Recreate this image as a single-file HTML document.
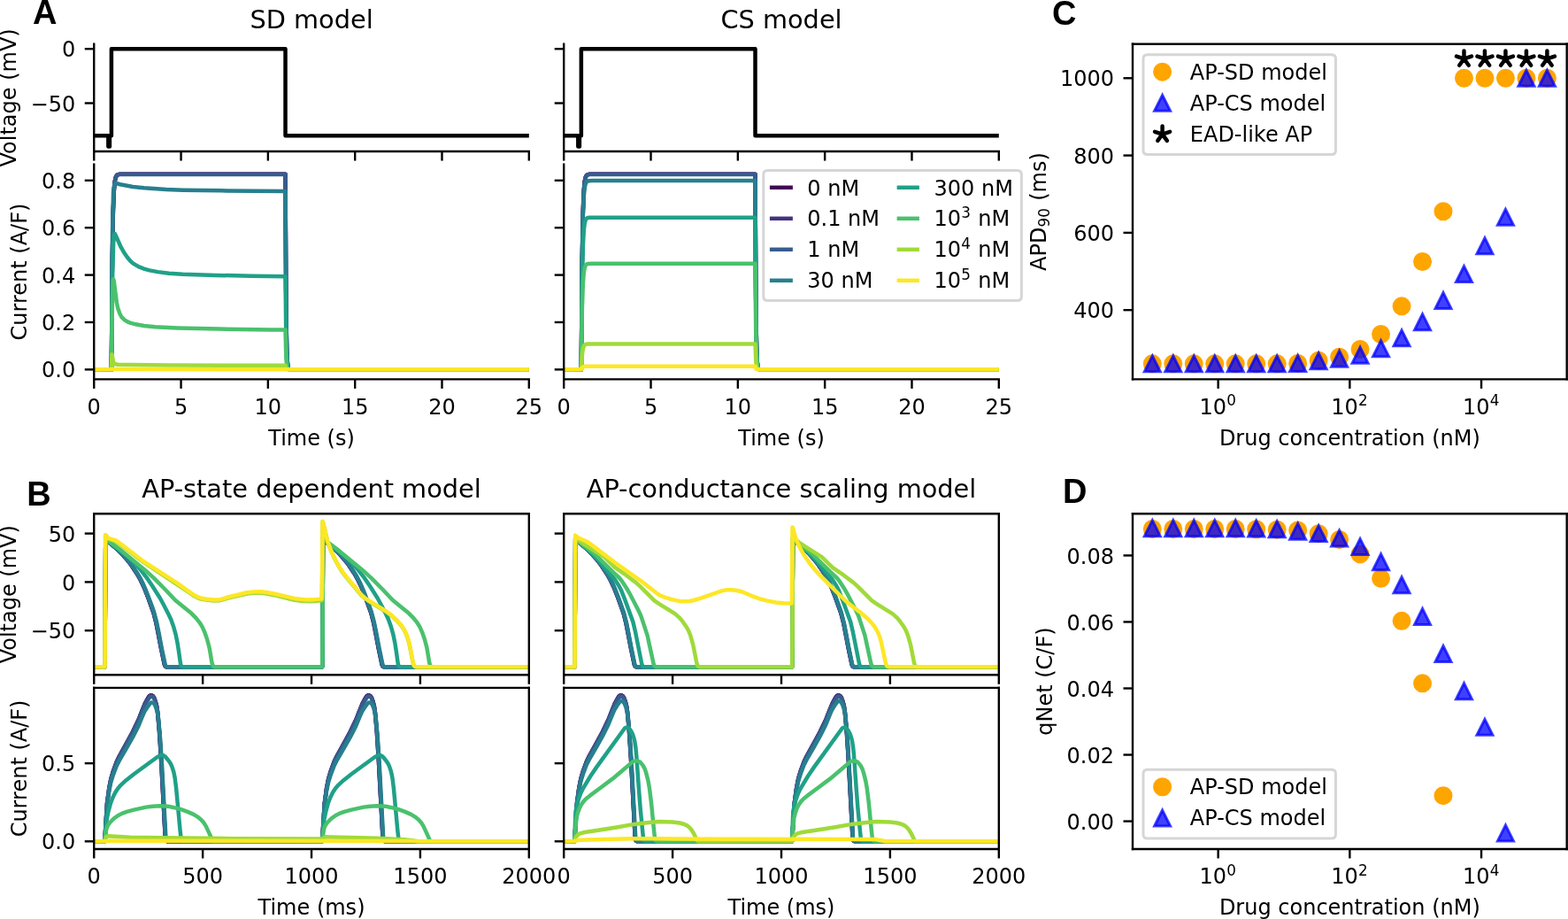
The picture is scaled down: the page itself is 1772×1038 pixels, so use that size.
<!DOCTYPE html>
<html><head><meta charset="utf-8"><title>Figure</title>
<style>html,body{margin:0;padding:0;background:#fff;}svg{display:block;}text{font-family:"DejaVu Sans","Liberation Sans",sans-serif;}</style>
</head><body>
<svg width="1772" height="1038" viewBox="0 0 590.666667 346" version="1.1">
<defs>
<style type="text/css">*{stroke-linejoin: round; stroke-linecap: butt}</style>
</defs>
<g id="figure_1">
<g id="patch_1">
<path d="M 0 346 
L 590.67 346 
L 590.67 0 
L 0 0 
z
" style="fill: #ffffff"/>
</g>
<g id="axes_1">
<g id="patch_2">
<path d="M 35.41 57.02 
L 199.27 57.02 
L 199.27 16.57 
L 35.41 16.57 
z
" style="fill: #ffffff"/>
</g>
<g id="matplotlib.axis_1">
<g id="xtick_1">
<g id="line2d_1">
<defs>
<path id="m1504cfccaf" d="M 0 0 
L 0 3.5 
" style="stroke: #000000; stroke-width: 0.8"/>
</defs>
<g>
<use href="#m1504cfccaf" x="35.413333" y="57.022222" style="stroke: #000000; stroke-width: 0.8"/>
</g>
</g>
</g>
<g id="xtick_2">
<g id="line2d_2">
<g>
<use href="#m1504cfccaf" x="68.184" y="57.022222" style="stroke: #000000; stroke-width: 0.8"/>
</g>
</g>
</g>
<g id="xtick_3">
<g id="line2d_3">
<g>
<use href="#m1504cfccaf" x="100.954667" y="57.022222" style="stroke: #000000; stroke-width: 0.8"/>
</g>
</g>
</g>
<g id="xtick_4">
<g id="line2d_4">
<g>
<use href="#m1504cfccaf" x="133.725333" y="57.022222" style="stroke: #000000; stroke-width: 0.8"/>
</g>
</g>
</g>
<g id="xtick_5">
<g id="line2d_5">
<g>
<use href="#m1504cfccaf" x="166.496" y="57.022222" style="stroke: #000000; stroke-width: 0.8"/>
</g>
</g>
</g>
<g id="xtick_6">
<g id="line2d_6">
<g>
<use href="#m1504cfccaf" x="199.266667" y="57.022222" style="stroke: #000000; stroke-width: 0.8"/>
</g>
</g>
</g>
</g>
<g id="matplotlib.axis_2">
<g id="ytick_1">
<g id="line2d_7">
<defs>
<path id="m5d545ce8f8" d="M 0 0 
L -3.5 0 
" style="stroke: #000000; stroke-width: 0.8"/>
</defs>
<g>
<use href="#m5d545ce8f8" x="35.413333" y="18.405556" style="stroke: #000000; stroke-width: 0.8"/>
</g>
</g>
<g id="text_1">
<text style="font-size: 8px; font-family: 'DejaVu Sans', 'Liberation Sans', sans-serif; text-anchor: end" x="28.413333" y="21.444931" transform="rotate(-0 28.413333 21.444931)">0</text>
</g>
</g>
<g id="ytick_2">
<g id="line2d_8">
<g>
<use href="#m5d545ce8f8" x="35.413333" y="38.837654" style="stroke: #000000; stroke-width: 0.8"/>
</g>
</g>
<g id="text_2">
<text style="font-size: 8px; font-family: 'DejaVu Sans', 'Liberation Sans', sans-serif; text-anchor: end" x="28.413333" y="41.877029" transform="rotate(-0 28.413333 41.877029)">−50</text>
</g>
</g>
<g id="text_3">
<text style="font-size: 8px; font-family: 'DejaVu Sans', 'Liberation Sans', sans-serif; text-anchor: middle" x="5.865833" y="36.794444" transform="rotate(-90 5.865833 36.794444)">Voltage (mV)</text>
</g>
</g>
<g id="line2d_9">
<path d="M 35.41 51.1 
L 40.79 51.1 
L 40.79 55.18 
L 41.31 55.18 
L 41.31 51.1 
L 41.97 51.1 
L 41.97 18.41 
L 107.51 18.41 
L 107.51 51.1 
L 199.27 51.1 
" clip-path="url(#p07467d6503)" style="fill: none; stroke: #000000; stroke-width: 1.5; stroke-linecap: square"/>
</g>
<g id="patch_3">
<path d="M 35.41 57.02 
L 35.41 16.57 
" style="fill: none; stroke: #000000; stroke-width: 0.8; stroke-linejoin: miter; stroke-linecap: square"/>
</g>
<g id="patch_4">
<path d="M 35.41 57.02 
L 199.27 57.02 
" style="fill: none; stroke: #000000; stroke-width: 0.8; stroke-linejoin: miter; stroke-linecap: square"/>
</g>
<g id="text_4">
<text style="font-size: 9.6px; font-family: 'DejaVu Sans', 'Liberation Sans', sans-serif; text-anchor: middle" x="117.34" y="10.566667" transform="rotate(-0 117.34 10.566667)">SD model</text>
</g>
</g>
<g id="axes_2">
<g id="patch_5">
<path d="M 35.41 142.8 
L 199.27 142.8 
L 199.27 61.89 
L 35.41 61.89 
z
" style="fill: #ffffff"/>
</g>
<g id="matplotlib.axis_3">
<g id="xtick_7">
<g id="line2d_10">
<g>
<use href="#m1504cfccaf" x="35.413333" y="142.8" style="stroke: #000000; stroke-width: 0.8"/>
</g>
</g>
<g id="text_5">
<text style="font-size: 8px; font-family: 'DejaVu Sans', 'Liberation Sans', sans-serif; text-anchor: middle" x="35.413333" y="155.87875" transform="rotate(-0 35.413333 155.87875)">0</text>
</g>
</g>
<g id="xtick_8">
<g id="line2d_11">
<g>
<use href="#m1504cfccaf" x="68.184" y="142.8" style="stroke: #000000; stroke-width: 0.8"/>
</g>
</g>
<g id="text_6">
<text style="font-size: 8px; font-family: 'DejaVu Sans', 'Liberation Sans', sans-serif; text-anchor: middle" x="68.184" y="155.87875" transform="rotate(-0 68.184 155.87875)">5</text>
</g>
</g>
<g id="xtick_9">
<g id="line2d_12">
<g>
<use href="#m1504cfccaf" x="100.954667" y="142.8" style="stroke: #000000; stroke-width: 0.8"/>
</g>
</g>
<g id="text_7">
<text style="font-size: 8px; font-family: 'DejaVu Sans', 'Liberation Sans', sans-serif; text-anchor: middle" x="100.954667" y="155.87875" transform="rotate(-0 100.954667 155.87875)">10</text>
</g>
</g>
<g id="xtick_10">
<g id="line2d_13">
<g>
<use href="#m1504cfccaf" x="133.725333" y="142.8" style="stroke: #000000; stroke-width: 0.8"/>
</g>
</g>
<g id="text_8">
<text style="font-size: 8px; font-family: 'DejaVu Sans', 'Liberation Sans', sans-serif; text-anchor: middle" x="133.725333" y="155.87875" transform="rotate(-0 133.725333 155.87875)">15</text>
</g>
</g>
<g id="xtick_11">
<g id="line2d_14">
<g>
<use href="#m1504cfccaf" x="166.496" y="142.8" style="stroke: #000000; stroke-width: 0.8"/>
</g>
</g>
<g id="text_9">
<text style="font-size: 8px; font-family: 'DejaVu Sans', 'Liberation Sans', sans-serif; text-anchor: middle" x="166.496" y="155.87875" transform="rotate(-0 166.496 155.87875)">20</text>
</g>
</g>
<g id="xtick_12">
<g id="line2d_15">
<g>
<use href="#m1504cfccaf" x="199.266667" y="142.8" style="stroke: #000000; stroke-width: 0.8"/>
</g>
</g>
<g id="text_10">
<text style="font-size: 8px; font-family: 'DejaVu Sans', 'Liberation Sans', sans-serif; text-anchor: middle" x="199.266667" y="155.87875" transform="rotate(-0 199.266667 155.87875)">25</text>
</g>
</g>
<g id="text_11">
<text style="font-size: 8px; font-family: 'DejaVu Sans', 'Liberation Sans', sans-serif; text-anchor: middle" x="117.34" y="167.62125" transform="rotate(-0 117.34 167.62125)">Time (s)</text>
</g>
</g>
<g id="matplotlib.axis_4">
<g id="ytick_3">
<g id="line2d_16">
<g>
<use href="#m5d545ce8f8" x="35.413333" y="139.122384" style="stroke: #000000; stroke-width: 0.8"/>
</g>
</g>
<g id="text_12">
<text style="font-size: 8px; font-family: 'DejaVu Sans', 'Liberation Sans', sans-serif; text-anchor: end" x="28.413333" y="142.161759" transform="rotate(-0 28.413333 142.161759)">0.0</text>
</g>
</g>
<g id="ytick_4">
<g id="line2d_17">
<g>
<use href="#m5d545ce8f8" x="35.413333" y="121.326033" style="stroke: #000000; stroke-width: 0.8"/>
</g>
</g>
<g id="text_13">
<text style="font-size: 8px; font-family: 'DejaVu Sans', 'Liberation Sans', sans-serif; text-anchor: end" x="28.413333" y="124.365408" transform="rotate(-0 28.413333 124.365408)">0.2</text>
</g>
</g>
<g id="ytick_5">
<g id="line2d_18">
<g>
<use href="#m5d545ce8f8" x="35.413333" y="103.529681" style="stroke: #000000; stroke-width: 0.8"/>
</g>
</g>
<g id="text_14">
<text style="font-size: 8px; font-family: 'DejaVu Sans', 'Liberation Sans', sans-serif; text-anchor: end" x="28.413333" y="106.569056" transform="rotate(-0 28.413333 106.569056)">0.4</text>
</g>
</g>
<g id="ytick_6">
<g id="line2d_19">
<g>
<use href="#m5d545ce8f8" x="35.413333" y="85.73333" style="stroke: #000000; stroke-width: 0.8"/>
</g>
</g>
<g id="text_15">
<text style="font-size: 8px; font-family: 'DejaVu Sans', 'Liberation Sans', sans-serif; text-anchor: end" x="28.413333" y="88.772705" transform="rotate(-0 28.413333 88.772705)">0.6</text>
</g>
</g>
<g id="ytick_7">
<g id="line2d_20">
<g>
<use href="#m5d545ce8f8" x="35.413333" y="67.936979" style="stroke: #000000; stroke-width: 0.8"/>
</g>
</g>
<g id="text_16">
<text style="font-size: 8px; font-family: 'DejaVu Sans', 'Liberation Sans', sans-serif; text-anchor: end" x="28.413333" y="70.976354" transform="rotate(-0 28.413333 70.976354)">0.8</text>
</g>
</g>
<g id="text_17">
<text style="font-size: 8px; font-family: 'DejaVu Sans', 'Liberation Sans', sans-serif; text-anchor: middle" x="10.027083" y="102.344444" transform="rotate(-90 10.027083 102.344444)">Current (A/F)</text>
</g>
</g>
<g id="line2d_21">
<path d="M 35.41 139.12 
L 41.97 139.12 
L 42.3 97.54 
L 42.62 79.46 
L 42.95 71.61 
L 43.28 68.19 
L 43.61 66.71 
L 43.97 66.03 
L 44.36 65.74 
L 44.95 65.61 
L 45.9 65.57 
L 83.45 65.57 
L 107.51 65.57 
L 107.77 115.67 
L 108.03 131.64 
L 108.3 136.74 
L 108.56 138.36 
L 108.82 138.88 
L 109.15 139.06 
L 109.87 139.12 
L 110.79 139.12 
L 199.27 139.12 
L 199.27 139.12 
" clip-path="url(#pf6a0c6cbec)" style="fill: none; stroke: #440154; stroke-width: 1.5; stroke-linecap: square"/>
</g>
<g id="line2d_22">
<path d="M 35.41 139.12 
L 41.97 139.12 
L 42.3 97.54 
L 42.62 79.46 
L 42.95 71.61 
L 43.28 68.19 
L 43.61 66.71 
L 43.97 66.03 
L 44.36 65.74 
L 44.95 65.61 
L 45.9 65.57 
L 83.45 65.57 
L 107.51 65.57 
L 107.77 115.67 
L 108.03 131.64 
L 108.3 136.74 
L 108.56 138.36 
L 108.82 138.88 
L 109.15 139.06 
L 109.87 139.12 
L 110.79 139.12 
L 199.27 139.12 
L 199.27 139.12 
" clip-path="url(#pf6a0c6cbec)" style="fill: none; stroke: #46327e; stroke-width: 1.5; stroke-linecap: square"/>
</g>
<g id="line2d_23">
<path d="M 35.41 139.12 
L 41.97 139.12 
L 42.3 97.58 
L 42.62 79.52 
L 42.95 71.67 
L 43.28 68.26 
L 43.61 66.78 
L 43.97 66.1 
L 44.36 65.81 
L 44.95 65.68 
L 45.9 65.64 
L 83.45 65.64 
L 107.51 65.64 
L 107.77 115.69 
L 108.03 131.65 
L 108.3 136.74 
L 108.56 138.36 
L 108.82 138.88 
L 109.15 139.06 
L 109.87 139.12 
L 110.79 139.12 
L 199.27 139.12 
L 199.27 139.12 
" clip-path="url(#pf6a0c6cbec)" style="fill: none; stroke: #365c8d; stroke-width: 1.5; stroke-linecap: square"/>
</g>
<g id="line2d_24">
<path d="M 35.41 139.12 
L 41.97 139.12 
L 42.33 88.06 
L 42.69 72.39 
L 42.92 70.31 
L 43.25 69 
L 43.41 68.92 
L 44 69.07 
L 45.24 69.42 
L 50.07 70.34 
L 54.24 70.76 
L 62.59 71.31 
L 68.85 71.55 
L 83.45 71.79 
L 107.51 72.03 
L 107.77 117.73 
L 108.03 132.3 
L 108.3 136.95 
L 108.56 138.43 
L 108.82 138.9 
L 109.15 139.07 
L 109.93 139.12 
L 110.79 139.12 
L 199.27 139.12 
L 199.27 139.12 
" clip-path="url(#pf6a0c6cbec)" style="fill: none; stroke: #277f8e; stroke-width: 1.5; stroke-linecap: square"/>
</g>
<g id="line2d_25">
<path d="M 35.41 139.12 
L 41.97 139.12 
L 42.36 104.51 
L 42.72 91.52 
L 43.05 88.43 
L 43.21 87.96 
L 43.25 87.97 
L 43.41 88.21 
L 45.57 93.08 
L 46.94 95.44 
L 47.99 96.92 
L 49.03 98.16 
L 50.07 99.11 
L 52.16 100.37 
L 54.24 101.2 
L 56.33 101.78 
L 59.46 102.37 
L 63.63 102.9 
L 68.85 103.21 
L 81.37 103.64 
L 94.93 103.92 
L 107.51 104.06 
L 107.77 127.94 
L 108.03 135.56 
L 108.3 137.99 
L 108.56 138.76 
L 108.89 139.04 
L 109.48 139.12 
L 110.79 139.12 
L 199.27 139.12 
L 199.27 139.12 
" clip-path="url(#pf6a0c6cbec)" style="fill: none; stroke: #1fa187; stroke-width: 1.5; stroke-linecap: square"/>
</g>
<g id="line2d_26">
<path d="M 35.41 139.12 
L 41.97 139.12 
L 42.33 112.66 
L 42.59 105.73 
L 42.69 105.13 
L 42.75 105.21 
L 42.98 106.19 
L 43.28 108.64 
L 43.97 113.97 
L 44.39 116.02 
L 45.08 118.02 
L 45.7 119.19 
L 45.9 119.45 
L 46.94 120.48 
L 47.99 121.12 
L 49.03 121.56 
L 51.12 122.11 
L 54.24 122.64 
L 58.42 123.11 
L 66.76 123.47 
L 82.41 123.84 
L 102.23 124.15 
L 107.51 124.17 
L 107.77 134.36 
L 108.03 137.6 
L 108.3 138.64 
L 108.56 138.97 
L 108.95 139.09 
L 110.13 139.12 
L 199.27 139.12 
L 199.27 139.12 
" clip-path="url(#pf6a0c6cbec)" style="fill: none; stroke: #4ac16d; stroke-width: 1.5; stroke-linecap: square"/>
</g>
<g id="line2d_27">
<path d="M 35.41 139.12 
L 41.97 139.12 
L 42.16 133.43 
L 42.23 133.67 
L 42.69 136.27 
L 43.08 136.95 
L 43.51 137.1 
L 44.49 137.25 
L 49.03 137.37 
L 63.63 137.48 
L 105.36 137.61 
L 107.51 137.61 
L 107.77 138.64 
L 108.03 138.97 
L 108.43 139.09 
L 109.74 139.12 
L 199.27 139.12 
L 199.27 139.12 
" clip-path="url(#pf6a0c6cbec)" style="fill: none; stroke: #a0da39; stroke-width: 1.5; stroke-linecap: square"/>
</g>
<g id="line2d_28">
<path d="M 35.41 139.12 
L 42.39 139.02 
L 43.08 138.99 
L 107.9 139.1 
L 109.34 139.12 
L 199.27 139.12 
L 199.27 139.12 
" clip-path="url(#pf6a0c6cbec)" style="fill: none; stroke: #fde725; stroke-width: 1.5; stroke-linecap: square"/>
</g>
<g id="patch_6">
<path d="M 35.41 142.8 
L 35.41 61.89 
" style="fill: none; stroke: #000000; stroke-width: 0.8; stroke-linejoin: miter; stroke-linecap: square"/>
</g>
<g id="patch_7">
<path d="M 35.41 142.8 
L 199.27 142.8 
" style="fill: none; stroke: #000000; stroke-width: 0.8; stroke-linejoin: miter; stroke-linecap: square"/>
</g>
</g>
<g id="axes_3">
<g id="patch_8">
<path d="M 212.4 57.02 
L 376.27 57.02 
L 376.27 16.57 
L 212.4 16.57 
z
" style="fill: #ffffff"/>
</g>
<g id="matplotlib.axis_5">
<g id="xtick_13">
<g id="line2d_29">
<g>
<use href="#m1504cfccaf" x="212.4" y="57.022222" style="stroke: #000000; stroke-width: 0.8"/>
</g>
</g>
</g>
<g id="xtick_14">
<g id="line2d_30">
<g>
<use href="#m1504cfccaf" x="245.173333" y="57.022222" style="stroke: #000000; stroke-width: 0.8"/>
</g>
</g>
</g>
<g id="xtick_15">
<g id="line2d_31">
<g>
<use href="#m1504cfccaf" x="277.946667" y="57.022222" style="stroke: #000000; stroke-width: 0.8"/>
</g>
</g>
</g>
<g id="xtick_16">
<g id="line2d_32">
<g>
<use href="#m1504cfccaf" x="310.72" y="57.022222" style="stroke: #000000; stroke-width: 0.8"/>
</g>
</g>
</g>
<g id="xtick_17">
<g id="line2d_33">
<g>
<use href="#m1504cfccaf" x="343.493333" y="57.022222" style="stroke: #000000; stroke-width: 0.8"/>
</g>
</g>
</g>
<g id="xtick_18">
<g id="line2d_34">
<g>
<use href="#m1504cfccaf" x="376.266667" y="57.022222" style="stroke: #000000; stroke-width: 0.8"/>
</g>
</g>
</g>
</g>
<g id="matplotlib.axis_6">
<g id="ytick_8">
<g id="line2d_35">
<g>
<use href="#m5d545ce8f8" x="212.4" y="18.405556" style="stroke: #000000; stroke-width: 0.8"/>
</g>
</g>
</g>
<g id="ytick_9">
<g id="line2d_36">
<g>
<use href="#m5d545ce8f8" x="212.4" y="38.837654" style="stroke: #000000; stroke-width: 0.8"/>
</g>
</g>
</g>
</g>
<g id="line2d_37">
<path d="M 212.4 51.1 
L 217.77 51.1 
L 217.77 55.18 
L 218.3 55.18 
L 218.3 51.1 
L 218.95 51.1 
L 218.95 18.41 
L 284.5 18.41 
L 284.5 51.1 
L 376.27 51.1 
" clip-path="url(#pd16b6974a2)" style="fill: none; stroke: #000000; stroke-width: 1.5; stroke-linecap: square"/>
</g>
<g id="patch_9">
<path d="M 212.4 57.02 
L 212.4 16.57 
" style="fill: none; stroke: #000000; stroke-width: 0.8; stroke-linejoin: miter; stroke-linecap: square"/>
</g>
<g id="patch_10">
<path d="M 212.4 57.02 
L 376.27 57.02 
" style="fill: none; stroke: #000000; stroke-width: 0.8; stroke-linejoin: miter; stroke-linecap: square"/>
</g>
<g id="text_18">
<text style="font-size: 9.6px; font-family: 'DejaVu Sans', 'Liberation Sans', sans-serif; text-anchor: middle" x="294.333333" y="10.566667" transform="rotate(-0 294.333333 10.566667)">CS model</text>
</g>
</g>
<g id="axes_4">
<g id="patch_11">
<path d="M 212.4 142.8 
L 376.27 142.8 
L 376.27 61.89 
L 212.4 61.89 
z
" style="fill: #ffffff"/>
</g>
<g id="matplotlib.axis_7">
<g id="xtick_19">
<g id="line2d_38">
<g>
<use href="#m1504cfccaf" x="212.4" y="142.8" style="stroke: #000000; stroke-width: 0.8"/>
</g>
</g>
<g id="text_19">
<text style="font-size: 8px; font-family: 'DejaVu Sans', 'Liberation Sans', sans-serif; text-anchor: middle" x="212.4" y="155.87875" transform="rotate(-0 212.4 155.87875)">0</text>
</g>
</g>
<g id="xtick_20">
<g id="line2d_39">
<g>
<use href="#m1504cfccaf" x="245.173333" y="142.8" style="stroke: #000000; stroke-width: 0.8"/>
</g>
</g>
<g id="text_20">
<text style="font-size: 8px; font-family: 'DejaVu Sans', 'Liberation Sans', sans-serif; text-anchor: middle" x="245.173333" y="155.87875" transform="rotate(-0 245.173333 155.87875)">5</text>
</g>
</g>
<g id="xtick_21">
<g id="line2d_40">
<g>
<use href="#m1504cfccaf" x="277.946667" y="142.8" style="stroke: #000000; stroke-width: 0.8"/>
</g>
</g>
<g id="text_21">
<text style="font-size: 8px; font-family: 'DejaVu Sans', 'Liberation Sans', sans-serif; text-anchor: middle" x="277.946667" y="155.87875" transform="rotate(-0 277.946667 155.87875)">10</text>
</g>
</g>
<g id="xtick_22">
<g id="line2d_41">
<g>
<use href="#m1504cfccaf" x="310.72" y="142.8" style="stroke: #000000; stroke-width: 0.8"/>
</g>
</g>
<g id="text_22">
<text style="font-size: 8px; font-family: 'DejaVu Sans', 'Liberation Sans', sans-serif; text-anchor: middle" x="310.72" y="155.87875" transform="rotate(-0 310.72 155.87875)">15</text>
</g>
</g>
<g id="xtick_23">
<g id="line2d_42">
<g>
<use href="#m1504cfccaf" x="343.493333" y="142.8" style="stroke: #000000; stroke-width: 0.8"/>
</g>
</g>
<g id="text_23">
<text style="font-size: 8px; font-family: 'DejaVu Sans', 'Liberation Sans', sans-serif; text-anchor: middle" x="343.493333" y="155.87875" transform="rotate(-0 343.493333 155.87875)">20</text>
</g>
</g>
<g id="xtick_24">
<g id="line2d_43">
<g>
<use href="#m1504cfccaf" x="376.266667" y="142.8" style="stroke: #000000; stroke-width: 0.8"/>
</g>
</g>
<g id="text_24">
<text style="font-size: 8px; font-family: 'DejaVu Sans', 'Liberation Sans', sans-serif; text-anchor: middle" x="376.266667" y="155.87875" transform="rotate(-0 376.266667 155.87875)">25</text>
</g>
</g>
<g id="text_25">
<text style="font-size: 8px; font-family: 'DejaVu Sans', 'Liberation Sans', sans-serif; text-anchor: middle" x="294.333333" y="167.62125" transform="rotate(-0 294.333333 167.62125)">Time (s)</text>
</g>
</g>
<g id="matplotlib.axis_8">
<g id="ytick_10">
<g id="line2d_44">
<g>
<use href="#m5d545ce8f8" x="212.4" y="139.122384" style="stroke: #000000; stroke-width: 0.8"/>
</g>
</g>
</g>
<g id="ytick_11">
<g id="line2d_45">
<g>
<use href="#m5d545ce8f8" x="212.4" y="121.326033" style="stroke: #000000; stroke-width: 0.8"/>
</g>
</g>
</g>
<g id="ytick_12">
<g id="line2d_46">
<g>
<use href="#m5d545ce8f8" x="212.4" y="103.529681" style="stroke: #000000; stroke-width: 0.8"/>
</g>
</g>
</g>
<g id="ytick_13">
<g id="line2d_47">
<g>
<use href="#m5d545ce8f8" x="212.4" y="85.73333" style="stroke: #000000; stroke-width: 0.8"/>
</g>
</g>
</g>
<g id="ytick_14">
<g id="line2d_48">
<g>
<use href="#m5d545ce8f8" x="212.4" y="67.936979" style="stroke: #000000; stroke-width: 0.8"/>
</g>
</g>
</g>
</g>
<g id="line2d_49">
<path d="M 212.4 139.12 
L 218.95 139.12 
L 219.28 97.54 
L 219.61 79.46 
L 219.94 71.61 
L 220.27 68.19 
L 220.59 66.71 
L 220.95 66.03 
L 221.35 65.74 
L 221.94 65.61 
L 222.89 65.57 
L 260.44 65.57 
L 284.5 65.57 
L 284.76 115.67 
L 285.03 131.64 
L 285.29 136.74 
L 285.55 138.36 
L 285.81 138.88 
L 286.14 139.06 
L 286.86 139.12 
L 287.78 139.12 
L 376.27 139.12 
L 376.27 139.12 
" clip-path="url(#pbfc1b4fcc4)" style="fill: none; stroke: #440154; stroke-width: 1.5; stroke-linecap: square"/>
</g>
<g id="line2d_50">
<path d="M 212.4 139.12 
L 218.95 139.12 
L 219.28 97.54 
L 219.61 79.46 
L 219.94 71.61 
L 220.27 68.19 
L 220.59 66.71 
L 220.95 66.03 
L 221.35 65.74 
L 221.94 65.61 
L 222.89 65.57 
L 260.44 65.57 
L 284.5 65.57 
L 284.76 115.67 
L 285.03 131.64 
L 285.29 136.74 
L 285.55 138.36 
L 285.81 138.88 
L 286.14 139.06 
L 286.86 139.12 
L 287.78 139.12 
L 376.27 139.12 
L 376.27 139.12 
" clip-path="url(#pbfc1b4fcc4)" style="fill: none; stroke: #46327e; stroke-width: 1.5; stroke-linecap: square"/>
</g>
<g id="line2d_51">
<path d="M 212.4 139.12 
L 218.95 139.12 
L 219.28 97.58 
L 219.61 79.52 
L 219.94 71.67 
L 220.27 68.26 
L 220.59 66.78 
L 220.95 66.1 
L 221.35 65.81 
L 221.94 65.68 
L 222.89 65.64 
L 260.44 65.64 
L 284.5 65.64 
L 284.76 115.69 
L 285.03 131.65 
L 285.29 136.74 
L 285.55 138.36 
L 285.81 138.88 
L 286.14 139.06 
L 286.86 139.12 
L 287.78 139.12 
L 376.27 139.12 
L 376.27 139.12 
" clip-path="url(#pbfc1b4fcc4)" style="fill: none; stroke: #365c8d; stroke-width: 1.5; stroke-linecap: square"/>
</g>
<g id="line2d_52">
<path d="M 212.4 139.12 
L 218.95 139.12 
L 219.28 98.92 
L 219.61 81.45 
L 219.94 73.86 
L 220.27 70.56 
L 220.59 69.13 
L 220.95 68.47 
L 221.35 68.19 
L 221.97 68.06 
L 222.89 68.03 
L 262.53 68.03 
L 284.5 68.03 
L 284.76 116.45 
L 285.03 131.89 
L 285.29 136.82 
L 285.55 138.39 
L 285.81 138.89 
L 286.14 139.07 
L 286.93 139.12 
L 287.78 139.12 
L 376.27 139.12 
L 376.27 139.12 
" clip-path="url(#pbfc1b4fcc4)" style="fill: none; stroke: #277f8e; stroke-width: 1.5; stroke-linecap: square"/>
</g>
<g id="line2d_53">
<path d="M 212.4 139.12 
L 218.95 139.12 
L 219.28 106.77 
L 219.61 92.71 
L 219.94 86.6 
L 220.27 83.95 
L 220.59 82.79 
L 220.95 82.26 
L 221.38 82.03 
L 222.1 81.93 
L 223.93 81.91 
L 284.5 81.91 
L 284.76 120.88 
L 285.03 133.3 
L 285.29 137.27 
L 285.55 138.53 
L 285.81 138.93 
L 286.21 139.09 
L 287.12 139.12 
L 376.27 139.12 
L 376.27 139.12 
" clip-path="url(#pbfc1b4fcc4)" style="fill: none; stroke: #1fa187; stroke-width: 1.5; stroke-linecap: square"/>
</g>
<g id="line2d_54">
<path d="M 212.4 139.12 
L 218.95 139.12 
L 219.28 116.58 
L 219.61 106.79 
L 219.94 102.53 
L 220.27 100.68 
L 220.63 99.83 
L 221.02 99.47 
L 221.54 99.31 
L 222.76 99.26 
L 240.62 99.26 
L 284.5 99.26 
L 284.76 126.41 
L 285.03 135.07 
L 285.29 137.83 
L 285.55 138.71 
L 285.88 139.02 
L 286.4 139.11 
L 287.78 139.12 
L 376.27 139.12 
L 376.27 139.12 
" clip-path="url(#pbfc1b4fcc4)" style="fill: none; stroke: #4ac16d; stroke-width: 1.5; stroke-linecap: square"/>
</g>
<g id="line2d_55">
<path d="M 212.4 139.12 
L 218.95 139.12 
L 219.28 133.69 
L 219.61 131.33 
L 219.94 130.3 
L 220.3 129.83 
L 220.76 129.61 
L 221.58 129.52 
L 224.97 129.51 
L 284.5 129.51 
L 284.76 136.06 
L 285.03 138.15 
L 285.29 138.81 
L 285.62 139.05 
L 286.27 139.12 
L 287.78 139.12 
L 376.27 139.12 
L 376.27 139.12 
" clip-path="url(#pbfc1b4fcc4)" style="fill: none; stroke: #a0da39; stroke-width: 1.5; stroke-linecap: square"/>
</g>
<g id="line2d_56">
<path d="M 212.4 139.12 
L 218.99 139.03 
L 219.35 138.36 
L 219.74 138.08 
L 220.36 137.95 
L 222.13 137.92 
L 284.5 137.92 
L 284.76 138.74 
L 285.09 139.03 
L 285.62 139.11 
L 287.78 139.12 
L 376.27 139.12 
L 376.27 139.12 
" clip-path="url(#pbfc1b4fcc4)" style="fill: none; stroke: #fde725; stroke-width: 1.5; stroke-linecap: square"/>
</g>
<g id="patch_12">
<path d="M 212.4 142.8 
L 212.4 61.89 
" style="fill: none; stroke: #000000; stroke-width: 0.8; stroke-linejoin: miter; stroke-linecap: square"/>
</g>
<g id="patch_13">
<path d="M 212.4 142.8 
L 376.27 142.8 
" style="fill: none; stroke: #000000; stroke-width: 0.8; stroke-linejoin: miter; stroke-linecap: square"/>
</g>
</g>
<g id="axes_5">
<g id="patch_14">
<path d="M 35.41 254.1 
L 199.27 254.1 
L 199.27 193.4 
L 35.41 193.4 
z
" style="fill: #ffffff"/>
</g>
<g id="matplotlib.axis_9">
<g id="xtick_25">
<g id="line2d_57">
<g>
<use href="#m1504cfccaf" x="35.413333" y="254.1" style="stroke: #000000; stroke-width: 0.8"/>
</g>
</g>
</g>
<g id="xtick_26">
<g id="line2d_58">
<g>
<use href="#m1504cfccaf" x="76.376667" y="254.1" style="stroke: #000000; stroke-width: 0.8"/>
</g>
</g>
</g>
<g id="xtick_27">
<g id="line2d_59">
<g>
<use href="#m1504cfccaf" x="117.34" y="254.1" style="stroke: #000000; stroke-width: 0.8"/>
</g>
</g>
</g>
<g id="xtick_28">
<g id="line2d_60">
<g>
<use href="#m1504cfccaf" x="158.303333" y="254.1" style="stroke: #000000; stroke-width: 0.8"/>
</g>
</g>
</g>
<g id="xtick_29">
<g id="line2d_61">
<g>
<use href="#m1504cfccaf" x="199.266667" y="254.1" style="stroke: #000000; stroke-width: 0.8"/>
</g>
</g>
</g>
</g>
<g id="matplotlib.axis_10">
<g id="ytick_15">
<g id="line2d_62">
<g>
<use href="#m5d545ce8f8" x="35.413333" y="237.40065" style="stroke: #000000; stroke-width: 0.8"/>
</g>
</g>
<g id="text_26">
<text style="font-size: 8px; font-family: 'DejaVu Sans', 'Liberation Sans', sans-serif; text-anchor: end" x="28.413333" y="240.440025" transform="rotate(-0 28.413333 240.440025)">−50</text>
</g>
</g>
<g id="ytick_16">
<g id="line2d_63">
<g>
<use href="#m5d545ce8f8" x="35.413333" y="219.134023" style="stroke: #000000; stroke-width: 0.8"/>
</g>
</g>
<g id="text_27">
<text style="font-size: 8px; font-family: 'DejaVu Sans', 'Liberation Sans', sans-serif; text-anchor: end" x="28.413333" y="222.173398" transform="rotate(-0 28.413333 222.173398)">0</text>
</g>
</g>
<g id="ytick_17">
<g id="line2d_64">
<g>
<use href="#m5d545ce8f8" x="35.413333" y="200.867397" style="stroke: #000000; stroke-width: 0.8"/>
</g>
</g>
<g id="text_28">
<text style="font-size: 8px; font-family: 'DejaVu Sans', 'Liberation Sans', sans-serif; text-anchor: end" x="28.413333" y="203.906772" transform="rotate(-0 28.413333 203.906772)">50</text>
</g>
</g>
<g id="text_29">
<text style="font-size: 8px; font-family: 'DejaVu Sans', 'Liberation Sans', sans-serif; text-anchor: middle" x="5.865833" y="223.75" transform="rotate(-90 5.865833 223.75)">Voltage (mV)</text>
</g>
</g>
<g id="line2d_65">
<path d="M 35.41 251.07 
L 39.47 251.07 
L 39.51 250.84 
L 39.63 226.83 
L 39.76 202.5 
L 39.8 202.52 
L 40.08 202.81 
L 40.33 203.2 
L 40.82 203.97 
L 41.64 204.65 
L 43.44 206.14 
L 45.57 208.18 
L 47.7 210.55 
L 49.34 212.66 
L 51.63 216.04 
L 52.95 218.39 
L 54.26 221.17 
L 55.9 225.31 
L 57.86 230.85 
L 58.84 234.67 
L 59.5 238 
L 60.65 244.01 
L 61.96 250.25 
L 62.29 250.9 
L 62.61 251.06 
L 67.53 251.07 
L 121.4 251.07 
L 121.44 250.84 
L 121.56 226.83 
L 121.68 202.5 
L 121.72 202.52 
L 122.01 202.81 
L 122.26 203.2 
L 122.75 203.97 
L 123.57 204.65 
L 125.37 206.14 
L 127.5 208.18 
L 129.63 210.55 
L 131.27 212.66 
L 133.56 216.04 
L 134.87 218.39 
L 136.18 221.17 
L 137.82 225.31 
L 139.79 230.85 
L 140.77 234.67 
L 141.43 238 
L 142.57 244.01 
L 143.88 250.25 
L 144.21 250.9 
L 144.54 251.06 
L 149.46 251.07 
L 199.27 251.07 
L 199.27 251.07 
" clip-path="url(#p3e1aa53b1c)" style="fill: none; stroke: #440154; stroke-width: 1.5; stroke-linecap: square"/>
</g>
<g id="line2d_66">
<path d="M 35.41 251.07 
L 39.47 251.07 
L 39.51 250.84 
L 39.63 226.83 
L 39.76 202.5 
L 39.8 202.52 
L 40.08 202.81 
L 40.33 203.2 
L 40.82 203.97 
L 41.64 204.65 
L 43.44 206.14 
L 45.57 208.18 
L 47.7 210.55 
L 49.34 212.66 
L 51.63 216.04 
L 52.95 218.39 
L 54.26 221.17 
L 55.9 225.31 
L 57.86 230.85 
L 58.84 234.67 
L 59.5 238 
L 60.65 244.01 
L 61.96 250.25 
L 62.29 250.9 
L 62.61 251.06 
L 67.53 251.07 
L 121.4 251.07 
L 121.44 250.84 
L 121.56 226.83 
L 121.68 202.5 
L 121.72 202.52 
L 122.01 202.81 
L 122.26 203.2 
L 122.75 203.97 
L 123.57 204.65 
L 125.37 206.14 
L 127.5 208.18 
L 129.63 210.55 
L 131.27 212.66 
L 133.56 216.04 
L 134.87 218.39 
L 136.18 221.17 
L 137.82 225.31 
L 139.79 230.85 
L 140.77 234.67 
L 141.43 238 
L 142.57 244.01 
L 143.88 250.25 
L 144.21 250.9 
L 144.54 251.06 
L 149.46 251.07 
L 199.27 251.07 
L 199.27 251.07 
" clip-path="url(#p3e1aa53b1c)" style="fill: none; stroke: #46327e; stroke-width: 1.5; stroke-linecap: square"/>
</g>
<g id="line2d_67">
<path d="M 35.41 251.07 
L 39.47 251.07 
L 39.51 250.84 
L 39.63 226.83 
L 39.76 202.5 
L 39.8 202.52 
L 40.08 202.81 
L 40.33 203.2 
L 40.82 203.97 
L 41.64 204.65 
L 43.44 206.14 
L 45.9 208.47 
L 47.54 210.23 
L 49.34 212.52 
L 51.63 215.88 
L 52.95 218.19 
L 54.26 220.94 
L 55.73 224.62 
L 57.86 230.51 
L 58.84 234.24 
L 59.5 237.42 
L 60.81 244.35 
L 62.12 250.46 
L 62.45 250.95 
L 62.78 251.07 
L 121.4 251.07 
L 121.44 250.84 
L 121.56 226.83 
L 121.68 202.5 
L 121.72 202.52 
L 122.01 202.81 
L 122.26 203.2 
L 122.75 203.97 
L 123.57 204.65 
L 125.37 206.14 
L 127.83 208.47 
L 129.47 210.23 
L 131.27 212.52 
L 133.56 215.88 
L 134.87 218.19 
L 136.18 220.94 
L 137.66 224.62 
L 139.79 230.51 
L 140.77 234.24 
L 141.43 237.42 
L 142.74 244.35 
L 144.05 250.46 
L 144.38 250.95 
L 144.7 251.07 
L 199.27 251.07 
L 199.27 251.07 
" clip-path="url(#p3e1aa53b1c)" style="fill: none; stroke: #365c8d; stroke-width: 1.5; stroke-linecap: square"/>
</g>
<g id="line2d_68">
<path d="M 35.41 251.07 
L 39.47 251.07 
L 39.51 250.84 
L 39.63 226.83 
L 39.76 202.5 
L 39.8 202.52 
L 40.08 202.81 
L 40.33 203.2 
L 40.82 203.97 
L 41.64 204.65 
L 43.44 206.14 
L 47.21 209.66 
L 48.69 211.43 
L 50.49 213.91 
L 52.29 216.7 
L 53.6 219.16 
L 54.91 222.11 
L 57.21 228.08 
L 58.03 230.5 
L 59.01 234.23 
L 59.66 237.41 
L 60.97 244.33 
L 62.29 250.45 
L 62.61 250.95 
L 62.94 251.07 
L 121.4 251.07 
L 121.44 250.84 
L 121.56 226.83 
L 121.68 202.5 
L 121.72 202.52 
L 122.01 202.81 
L 122.26 203.2 
L 122.75 203.97 
L 123.57 204.65 
L 125.37 206.14 
L 129.14 209.66 
L 130.61 211.43 
L 132.41 213.91 
L 134.22 216.7 
L 135.53 219.16 
L 136.84 222.11 
L 139.13 228.08 
L 139.95 230.5 
L 140.93 234.23 
L 141.59 237.41 
L 142.9 244.33 
L 144.21 250.45 
L 144.54 250.95 
L 144.87 251.07 
L 199.27 251.07 
L 199.27 251.07 
" clip-path="url(#p3e1aa53b1c)" style="fill: none; stroke: #277f8e; stroke-width: 1.5; stroke-linecap: square"/>
</g>
<g id="line2d_69">
<path d="M 35.41 251.07 
L 39.47 251.07 
L 39.51 250.84 
L 39.63 226.83 
L 39.76 202.5 
L 39.8 202.51 
L 40.12 202.79 
L 40.49 203.37 
L 40.98 203.94 
L 44.75 206.81 
L 48.19 209.58 
L 50.98 212.3 
L 52.95 214.53 
L 55.24 217.46 
L 57.37 220.59 
L 60.32 225.25 
L 61.63 227.67 
L 63.6 231.5 
L 64.42 233.27 
L 65.4 236.04 
L 66.22 238.99 
L 66.87 242.19 
L 67.36 245.4 
L 68.02 250.03 
L 68.35 250.85 
L 68.84 251.06 
L 71.95 251.07 
L 121.4 251.07 
L 121.44 250.84 
L 121.56 226.83 
L 121.68 202.5 
L 121.72 202.51 
L 122.05 202.79 
L 122.42 203.37 
L 122.91 203.94 
L 126.68 206.81 
L 130.12 209.58 
L 132.91 212.3 
L 134.87 214.53 
L 137.17 217.46 
L 139.3 220.59 
L 142.25 225.25 
L 143.56 227.67 
L 145.52 231.5 
L 146.34 233.27 
L 147.33 236.04 
L 148.14 238.99 
L 148.8 242.19 
L 149.29 245.4 
L 149.95 250.03 
L 150.27 250.85 
L 150.77 251.06 
L 153.88 251.07 
L 199.27 251.07 
L 199.27 251.07 
" clip-path="url(#p3e1aa53b1c)" style="fill: none; stroke: #1fa187; stroke-width: 1.5; stroke-linecap: square"/>
</g>
<g id="line2d_70">
<path d="M 35.41 251.07 
L 39.47 251.07 
L 39.51 250.84 
L 39.63 226.83 
L 39.76 202.5 
L 39.8 202.51 
L 40.12 202.75 
L 40.49 203.24 
L 40.98 203.76 
L 42.62 204.95 
L 44.92 206.68 
L 54.75 214.72 
L 58.03 217.72 
L 62.29 222 
L 66.05 226.02 
L 72.12 230.95 
L 73.92 232.81 
L 75.23 234.43 
L 76.21 236.03 
L 77.03 237.85 
L 78.02 240.67 
L 78.83 243.71 
L 79.33 246.54 
L 79.82 249.52 
L 80.15 250.52 
L 80.47 250.92 
L 80.8 251.07 
L 121.4 251.07 
L 121.44 250.84 
L 121.56 226.83 
L 121.68 202.5 
L 121.72 202.51 
L 122.05 202.75 
L 122.42 203.24 
L 122.91 203.76 
L 124.55 204.95 
L 126.84 206.68 
L 136.67 214.72 
L 139.95 217.72 
L 144.21 222 
L 147.98 226.02 
L 154.04 230.95 
L 155.85 232.81 
L 157.16 234.43 
L 158.14 236.03 
L 158.96 237.85 
L 159.94 240.67 
L 160.76 243.71 
L 161.25 246.54 
L 161.74 249.52 
L 162.07 250.52 
L 162.4 250.92 
L 162.73 251.07 
L 199.27 251.07 
L 199.27 251.07 
" clip-path="url(#p3e1aa53b1c)" style="fill: none; stroke: #4ac16d; stroke-width: 1.5; stroke-linecap: square"/>
</g>
<g id="line2d_71">
<path d="M 35.41 251.07 
L 39.47 251.07 
L 39.51 250.64 
L 39.71 201.5 
L 39.84 201.54 
L 40.12 201.85 
L 40.66 202.83 
L 41.15 203.04 
L 43.11 203.61 
L 44.1 204.12 
L 45.9 205.42 
L 50.65 209.11 
L 54.42 211.9 
L 70.81 222.81 
L 72.77 224.15 
L 74.57 225.12 
L 75.72 225.52 
L 77.69 225.87 
L 80.47 226.17 
L 82.77 226.06 
L 83.75 225.82 
L 86.21 225.12 
L 93.09 223.51 
L 95.71 223.28 
L 98.17 223.22 
L 99.97 223.43 
L 103.25 224.06 
L 110.95 225.95 
L 113.57 226.26 
L 116.52 226.43 
L 118.49 226.34 
L 121.11 226.06 
L 121.27 225.96 
L 121.4 213.91 
L 121.52 196.34 
L 121.6 196.48 
L 121.97 197.87 
L 123.4 203.95 
L 124.55 207.07 
L 125.86 209.97 
L 127.66 213.34 
L 129.14 215.64 
L 130.61 217.5 
L 134.38 222 
L 136.18 224.17 
L 137.33 225.19 
L 139.13 226.46 
L 142.08 228.25 
L 145.52 230.35 
L 147.65 231.96 
L 149.13 233.33 
L 150.93 235.27 
L 152.08 236.93 
L 152.9 238.5 
L 153.55 240.24 
L 154.21 242.57 
L 155.03 246.81 
L 155.68 250 
L 156.01 250.67 
L 156.34 250.94 
L 156.83 251.07 
L 199.27 251.07 
L 199.27 251.07 
" clip-path="url(#p3e1aa53b1c)" style="fill: none; stroke: #a0da39; stroke-width: 1.5; stroke-linecap: square"/>
</g>
<g id="line2d_72">
<path d="M 35.41 251.07 
L 39.47 251.07 
L 39.51 250.64 
L 39.71 201.5 
L 39.84 201.54 
L 40.08 201.78 
L 40.49 202.41 
L 40.98 202.64 
L 43.61 203.5 
L 44.75 204.23 
L 46.56 205.61 
L 53.27 210.78 
L 55.9 212.52 
L 66.87 219.65 
L 70.31 222.11 
L 72.61 223.72 
L 74.41 224.7 
L 75.56 225.15 
L 77.36 225.49 
L 80.47 225.83 
L 82.77 225.72 
L 83.75 225.48 
L 86.21 224.75 
L 93.09 223.08 
L 95.71 222.81 
L 98.01 222.74 
L 99.81 222.91 
L 103.08 223.49 
L 111.61 225.44 
L 115.7 225.81 
L 117.83 225.79 
L 121.11 225.46 
L 121.27 225.36 
L 121.4 213.89 
L 121.52 196.34 
L 121.6 196.48 
L 122.01 198.03 
L 123.4 203.73 
L 124.55 206.87 
L 125.86 209.77 
L 127.66 213.14 
L 129.14 215.44 
L 130.61 217.3 
L 134.38 221.8 
L 136.18 223.97 
L 137.33 224.99 
L 139.13 226.26 
L 142.08 228.05 
L 145.52 230.15 
L 147.65 231.76 
L 149.13 233.13 
L 150.93 235.07 
L 152.08 236.73 
L 152.9 238.3 
L 153.55 240.04 
L 154.21 242.37 
L 155.03 246.6 
L 155.68 249.81 
L 156.01 250.63 
L 156.34 250.94 
L 156.83 251.07 
L 199.27 251.07 
L 199.27 251.07 
" clip-path="url(#p3e1aa53b1c)" style="fill: none; stroke: #fde725; stroke-width: 1.5; stroke-linecap: square"/>
</g>
<g id="patch_15">
<path d="M 35.41 254.1 
L 35.41 193.4 
" style="fill: none; stroke: #000000; stroke-width: 0.8; stroke-linejoin: miter; stroke-linecap: square"/>
</g>
<g id="patch_16">
<path d="M 199.27 254.1 
L 199.27 193.4 
" style="fill: none; stroke: #000000; stroke-width: 0.8; stroke-linejoin: miter; stroke-linecap: square"/>
</g>
<g id="patch_17">
<path d="M 35.41 254.1 
L 199.27 254.1 
" style="fill: none; stroke: #000000; stroke-width: 0.8; stroke-linejoin: miter; stroke-linecap: square"/>
</g>
<g id="patch_18">
<path d="M 35.41 193.4 
L 199.27 193.4 
" style="fill: none; stroke: #000000; stroke-width: 0.8; stroke-linejoin: miter; stroke-linecap: square"/>
</g>
<g id="text_30">
<text style="font-size: 9.6px; font-family: 'DejaVu Sans', 'Liberation Sans', sans-serif; text-anchor: middle" x="117.34" y="187.4" transform="rotate(-0 117.34 187.4)">AP-state dependent model</text>
</g>
</g>
<g id="axes_6">
<g id="patch_19">
<path d="M 35.41 319.67 
L 199.27 319.67 
L 199.27 258.97 
L 35.41 258.97 
z
" style="fill: #ffffff"/>
</g>
<g id="matplotlib.axis_11">
<g id="xtick_30">
<g id="line2d_73">
<g>
<use href="#m1504cfccaf" x="35.413333" y="319.666667" style="stroke: #000000; stroke-width: 0.8"/>
</g>
</g>
<g id="text_31">
<text style="font-size: 8px; font-family: 'DejaVu Sans', 'Liberation Sans', sans-serif; text-anchor: middle" x="35.413333" y="332.745417" transform="rotate(-0 35.413333 332.745417)">0</text>
</g>
</g>
<g id="xtick_31">
<g id="line2d_74">
<g>
<use href="#m1504cfccaf" x="76.376667" y="319.666667" style="stroke: #000000; stroke-width: 0.8"/>
</g>
</g>
<g id="text_32">
<text style="font-size: 8px; font-family: 'DejaVu Sans', 'Liberation Sans', sans-serif; text-anchor: middle" x="76.376667" y="332.745417" transform="rotate(-0 76.376667 332.745417)">500</text>
</g>
</g>
<g id="xtick_32">
<g id="line2d_75">
<g>
<use href="#m1504cfccaf" x="117.34" y="319.666667" style="stroke: #000000; stroke-width: 0.8"/>
</g>
</g>
<g id="text_33">
<text style="font-size: 8px; font-family: 'DejaVu Sans', 'Liberation Sans', sans-serif; text-anchor: middle" x="117.34" y="332.745417" transform="rotate(-0 117.34 332.745417)">1000</text>
</g>
</g>
<g id="xtick_33">
<g id="line2d_76">
<g>
<use href="#m1504cfccaf" x="158.303333" y="319.666667" style="stroke: #000000; stroke-width: 0.8"/>
</g>
</g>
<g id="text_34">
<text style="font-size: 8px; font-family: 'DejaVu Sans', 'Liberation Sans', sans-serif; text-anchor: middle" x="158.303333" y="332.745417" transform="rotate(-0 158.303333 332.745417)">1500</text>
</g>
</g>
<g id="xtick_34">
<g id="line2d_77">
<g>
<use href="#m1504cfccaf" x="199.266667" y="319.666667" style="stroke: #000000; stroke-width: 0.8"/>
</g>
</g>
<g id="text_35">
<text style="font-size: 8px; font-family: 'DejaVu Sans', 'Liberation Sans', sans-serif; text-anchor: middle" x="199.266667" y="332.745417" transform="rotate(-0 199.266667 332.745417)">2000</text>
</g>
</g>
<g id="text_36">
<text style="font-size: 8px; font-family: 'DejaVu Sans', 'Liberation Sans', sans-serif; text-anchor: middle" x="117.34" y="344.487917" transform="rotate(-0 117.34 344.487917)">Time (ms)</text>
</g>
</g>
<g id="matplotlib.axis_12">
<g id="ytick_18">
<g id="line2d_78">
<g>
<use href="#m5d545ce8f8" x="35.413333" y="316.769194" style="stroke: #000000; stroke-width: 0.8"/>
</g>
</g>
<g id="text_37">
<text style="font-size: 8px; font-family: 'DejaVu Sans', 'Liberation Sans', sans-serif; text-anchor: end" x="28.413333" y="319.808569" transform="rotate(-0 28.413333 319.808569)">0.0</text>
</g>
</g>
<g id="ytick_19">
<g id="line2d_79">
<g>
<use href="#m5d545ce8f8" x="35.413333" y="287.383059" style="stroke: #000000; stroke-width: 0.8"/>
</g>
</g>
<g id="text_38">
<text style="font-size: 8px; font-family: 'DejaVu Sans', 'Liberation Sans', sans-serif; text-anchor: end" x="28.413333" y="290.422434" transform="rotate(-0 28.413333 290.422434)">0.5</text>
</g>
</g>
<g id="text_39">
<text style="font-size: 8px; font-family: 'DejaVu Sans', 'Liberation Sans', sans-serif; text-anchor: middle" x="10.027083" y="289.316667" transform="rotate(-90 10.027083 289.316667)">Current (A/F)</text>
</g>
</g>
<g id="line2d_80">
<path d="M 35.41 316.77 
L 39.43 316.77 
L 39.51 315.76 
L 40.33 302.45 
L 41.15 296.46 
L 41.8 293.25 
L 42.62 290.46 
L 43.93 286.82 
L 44.92 284.77 
L 47.87 279.43 
L 50 275.5 
L 52.13 271.09 
L 53.6 267.34 
L 54.58 264.93 
L 55.57 263.06 
L 56.22 262.1 
L 56.71 261.73 
L 57.04 261.73 
L 57.53 261.97 
L 58.03 262.64 
L 58.52 263.91 
L 59.01 265.81 
L 59.34 267.94 
L 59.99 275.22 
L 60.65 285.28 
L 62.29 315.94 
L 62.61 316.57 
L 62.94 316.72 
L 64.58 316.77 
L 121.35 316.77 
L 121.44 315.76 
L 122.26 302.45 
L 123.07 296.46 
L 123.73 293.25 
L 124.55 290.46 
L 125.86 286.82 
L 126.84 284.77 
L 129.79 279.43 
L 131.92 275.5 
L 134.05 271.09 
L 135.53 267.34 
L 136.51 264.93 
L 137.49 263.06 
L 138.15 262.1 
L 138.64 261.73 
L 138.97 261.73 
L 139.46 261.97 
L 139.95 262.64 
L 140.44 263.91 
L 140.93 265.81 
L 141.26 267.94 
L 141.92 275.22 
L 142.57 285.28 
L 144.21 315.94 
L 144.54 316.57 
L 144.87 316.72 
L 146.51 316.77 
L 199.27 316.77 
L 199.27 316.77 
" clip-path="url(#p8b78d3c133)" style="fill: none; stroke: #440154; stroke-width: 1.5; stroke-linecap: square"/>
</g>
<g id="line2d_81">
<path d="M 35.41 316.77 
L 39.43 316.77 
L 39.51 315.76 
L 40.33 302.45 
L 41.15 296.46 
L 41.8 293.25 
L 42.62 290.46 
L 43.93 286.82 
L 44.92 284.77 
L 47.87 279.43 
L 50 275.5 
L 52.13 271.09 
L 53.6 267.34 
L 54.58 264.93 
L 55.57 263.06 
L 56.22 262.1 
L 56.71 261.73 
L 57.04 261.73 
L 57.53 261.97 
L 58.03 262.64 
L 58.52 263.91 
L 59.01 265.81 
L 59.34 267.94 
L 59.99 275.22 
L 60.65 285.28 
L 62.29 315.94 
L 62.61 316.57 
L 62.94 316.72 
L 64.58 316.77 
L 121.35 316.77 
L 121.44 315.76 
L 122.26 302.45 
L 123.07 296.46 
L 123.73 293.25 
L 124.55 290.46 
L 125.86 286.82 
L 126.84 284.77 
L 129.79 279.43 
L 131.92 275.5 
L 134.05 271.09 
L 135.53 267.34 
L 136.51 264.93 
L 137.49 263.06 
L 138.15 262.1 
L 138.64 261.73 
L 138.97 261.73 
L 139.46 261.97 
L 139.95 262.64 
L 140.44 263.91 
L 140.93 265.81 
L 141.26 267.94 
L 141.92 275.22 
L 142.57 285.28 
L 144.21 315.94 
L 144.54 316.57 
L 144.87 316.72 
L 146.51 316.77 
L 199.27 316.77 
L 199.27 316.77 
" clip-path="url(#p8b78d3c133)" style="fill: none; stroke: #46327e; stroke-width: 1.5; stroke-linecap: square"/>
</g>
<g id="line2d_82">
<path d="M 35.41 316.77 
L 39.43 316.77 
L 39.51 315.77 
L 40.33 302.56 
L 41.15 296.62 
L 41.8 293.44 
L 42.62 290.67 
L 43.93 287.06 
L 44.92 285.03 
L 47.87 279.72 
L 50 275.83 
L 52.13 271.45 
L 53.6 267.73 
L 54.42 265.72 
L 55.4 263.91 
L 56.39 262.48 
L 56.88 262.15 
L 57.37 262.25 
L 57.7 262.48 
L 58.19 263.19 
L 58.68 264.54 
L 59.17 266.54 
L 59.5 268.91 
L 60.16 276.39 
L 60.81 286.79 
L 62.29 315.35 
L 62.61 316.44 
L 62.94 316.7 
L 64.42 316.77 
L 121.35 316.77 
L 121.44 315.77 
L 122.26 302.56 
L 123.07 296.62 
L 123.73 293.44 
L 124.55 290.67 
L 125.86 287.06 
L 126.84 285.03 
L 129.79 279.72 
L 131.92 275.83 
L 134.05 271.45 
L 135.53 267.73 
L 136.35 265.72 
L 137.33 263.91 
L 138.31 262.48 
L 138.8 262.15 
L 139.3 262.25 
L 139.62 262.48 
L 140.12 263.19 
L 140.61 264.54 
L 141.1 266.54 
L 141.43 268.91 
L 142.08 276.39 
L 142.74 286.79 
L 144.21 315.35 
L 144.54 316.44 
L 144.87 316.7 
L 146.34 316.77 
L 199.27 316.77 
L 199.27 316.77 
" clip-path="url(#p8b78d3c133)" style="fill: none; stroke: #365c8d; stroke-width: 1.5; stroke-linecap: square"/>
</g>
<g id="line2d_83">
<path d="M 35.41 316.77 
L 39.43 316.77 
L 39.51 315.81 
L 40.33 303.16 
L 41.15 297.47 
L 41.8 294.43 
L 42.62 291.78 
L 43.93 288.32 
L 44.92 286.37 
L 47.87 281.29 
L 50 277.56 
L 52.13 273.37 
L 53.6 269.79 
L 54.42 267.91 
L 55.4 266.4 
L 56.71 264.67 
L 57.04 264.47 
L 57.53 264.54 
L 57.86 264.74 
L 58.35 265.4 
L 58.84 266.64 
L 59.34 268.49 
L 59.66 270.61 
L 60.32 277.64 
L 60.97 287.37 
L 62.45 315.13 
L 62.78 316.4 
L 63.1 316.7 
L 64.58 316.77 
L 121.35 316.77 
L 121.44 315.81 
L 122.26 303.16 
L 123.07 297.47 
L 123.73 294.43 
L 124.55 291.78 
L 125.86 288.32 
L 126.84 286.37 
L 129.79 281.29 
L 131.92 277.56 
L 134.05 273.37 
L 135.53 269.79 
L 136.35 267.91 
L 137.33 266.4 
L 138.64 264.67 
L 138.97 264.47 
L 139.46 264.54 
L 139.79 264.74 
L 140.28 265.4 
L 140.77 266.64 
L 141.26 268.49 
L 141.59 270.61 
L 142.25 277.64 
L 142.9 287.37 
L 144.38 315.13 
L 144.7 316.4 
L 145.03 316.7 
L 146.51 316.77 
L 199.27 316.77 
L 199.27 316.77 
" clip-path="url(#p8b78d3c133)" style="fill: none; stroke: #277f8e; stroke-width: 1.5; stroke-linecap: square"/>
</g>
<g id="line2d_84">
<path d="M 35.41 316.77 
L 39.43 316.77 
L 39.51 315.99 
L 40.17 308.69 
L 40.82 305.55 
L 41.64 302.52 
L 42.46 300.31 
L 43.44 298.33 
L 44.43 296.81 
L 45.57 295.52 
L 47.54 293.72 
L 50.49 291.4 
L 59.17 285.07 
L 60.48 284.37 
L 60.97 284.23 
L 61.47 284.36 
L 62.29 284.9 
L 63.27 286.09 
L 64.09 287.2 
L 64.74 288.53 
L 65.4 290.51 
L 65.89 292.93 
L 66.38 296.81 
L 67.86 312.72 
L 68.18 315.61 
L 68.51 316.51 
L 68.84 316.77 
L 121.35 316.77 
L 121.44 315.99 
L 122.09 308.69 
L 122.75 305.55 
L 123.57 302.52 
L 124.39 300.31 
L 125.37 298.33 
L 126.35 296.81 
L 127.5 295.52 
L 129.47 293.72 
L 132.41 291.4 
L 141.1 285.07 
L 142.41 284.37 
L 142.9 284.23 
L 143.39 284.36 
L 144.21 284.9 
L 145.2 286.09 
L 146.01 287.2 
L 146.67 288.53 
L 147.33 290.51 
L 147.82 292.93 
L 148.31 296.81 
L 149.78 312.72 
L 150.11 315.61 
L 150.44 316.51 
L 150.77 316.77 
L 199.27 316.77 
L 199.27 316.77 
" clip-path="url(#p8b78d3c133)" style="fill: none; stroke: #1fa187; stroke-width: 1.5; stroke-linecap: square"/>
</g>
<g id="line2d_85">
<path d="M 35.41 316.77 
L 39.43 316.77 
L 39.55 315.68 
L 39.96 312.72 
L 40.33 311.41 
L 40.82 310.42 
L 41.48 309.58 
L 42.95 308.13 
L 44.43 307.08 
L 45.9 306.29 
L 47.7 305.63 
L 50.49 304.87 
L 55.08 303.87 
L 57.53 303.56 
L 60.32 303.43 
L 63.27 303.55 
L 65.23 303.98 
L 68.18 304.73 
L 70.64 305.62 
L 72.94 306.64 
L 74.41 307.53 
L 75.72 308.58 
L 76.7 309.68 
L 77.52 310.95 
L 78.51 313.05 
L 80.15 316.68 
L 80.47 316.77 
L 121.35 316.77 
L 121.48 315.68 
L 121.89 312.72 
L 122.26 311.41 
L 122.75 310.42 
L 123.4 309.58 
L 124.88 308.13 
L 126.35 307.08 
L 127.83 306.29 
L 129.63 305.63 
L 132.41 304.87 
L 137 303.87 
L 139.46 303.56 
L 142.25 303.43 
L 145.2 303.55 
L 147.16 303.98 
L 150.11 304.73 
L 152.57 305.62 
L 154.86 306.64 
L 156.34 307.53 
L 157.65 308.58 
L 158.63 309.68 
L 159.45 310.95 
L 160.43 313.05 
L 162.07 316.68 
L 162.4 316.77 
L 199.27 316.77 
L 199.27 316.77 
" clip-path="url(#p8b78d3c133)" style="fill: none; stroke: #4ac16d; stroke-width: 1.5; stroke-linecap: square"/>
</g>
<g id="line2d_86">
<path d="M 35.41 316.77 
L 39.47 316.72 
L 40 315.16 
L 40.29 314.94 
L 40.82 314.78 
L 41.8 314.8 
L 49.01 315.24 
L 60.65 315.44 
L 87.35 315.72 
L 121.48 315.87 
L 122.58 315.11 
L 124.88 315.13 
L 142.25 315.61 
L 152.24 316.05 
L 155.03 316.44 
L 157.48 316.77 
L 199.27 316.77 
L 199.27 316.77 
" clip-path="url(#p8b78d3c133)" style="fill: none; stroke: #a0da39; stroke-width: 1.5; stroke-linecap: square"/>
</g>
<g id="line2d_87">
<path d="M 35.41 316.77 
L 39.96 316.67 
L 40.66 316.59 
L 47.21 316.57 
L 155.52 316.67 
L 158.3 316.77 
L 199.27 316.77 
L 199.27 316.77 
" clip-path="url(#p8b78d3c133)" style="fill: none; stroke: #fde725; stroke-width: 1.5; stroke-linecap: square"/>
</g>
<g id="patch_20">
<path d="M 35.41 319.67 
L 35.41 258.97 
" style="fill: none; stroke: #000000; stroke-width: 0.8; stroke-linejoin: miter; stroke-linecap: square"/>
</g>
<g id="patch_21">
<path d="M 199.27 319.67 
L 199.27 258.97 
" style="fill: none; stroke: #000000; stroke-width: 0.8; stroke-linejoin: miter; stroke-linecap: square"/>
</g>
<g id="patch_22">
<path d="M 35.41 319.67 
L 199.27 319.67 
" style="fill: none; stroke: #000000; stroke-width: 0.8; stroke-linejoin: miter; stroke-linecap: square"/>
</g>
<g id="patch_23">
<path d="M 35.41 258.97 
L 199.27 258.97 
" style="fill: none; stroke: #000000; stroke-width: 0.8; stroke-linejoin: miter; stroke-linecap: square"/>
</g>
</g>
<g id="axes_7">
<g id="patch_24">
<path d="M 212.4 254.1 
L 376.27 254.1 
L 376.27 193.4 
L 212.4 193.4 
z
" style="fill: #ffffff"/>
</g>
<g id="matplotlib.axis_13">
<g id="xtick_35">
<g id="line2d_88">
<g>
<use href="#m1504cfccaf" x="212.4" y="254.1" style="stroke: #000000; stroke-width: 0.8"/>
</g>
</g>
</g>
<g id="xtick_36">
<g id="line2d_89">
<g>
<use href="#m1504cfccaf" x="253.366667" y="254.1" style="stroke: #000000; stroke-width: 0.8"/>
</g>
</g>
</g>
<g id="xtick_37">
<g id="line2d_90">
<g>
<use href="#m1504cfccaf" x="294.333333" y="254.1" style="stroke: #000000; stroke-width: 0.8"/>
</g>
</g>
</g>
<g id="xtick_38">
<g id="line2d_91">
<g>
<use href="#m1504cfccaf" x="335.3" y="254.1" style="stroke: #000000; stroke-width: 0.8"/>
</g>
</g>
</g>
<g id="xtick_39">
<g id="line2d_92">
<g>
<use href="#m1504cfccaf" x="376.266667" y="254.1" style="stroke: #000000; stroke-width: 0.8"/>
</g>
</g>
</g>
</g>
<g id="matplotlib.axis_14">
<g id="ytick_20">
<g id="line2d_93">
<g>
<use href="#m5d545ce8f8" x="212.4" y="237.40065" style="stroke: #000000; stroke-width: 0.8"/>
</g>
</g>
</g>
<g id="ytick_21">
<g id="line2d_94">
<g>
<use href="#m5d545ce8f8" x="212.4" y="219.134023" style="stroke: #000000; stroke-width: 0.8"/>
</g>
</g>
</g>
<g id="ytick_22">
<g id="line2d_95">
<g>
<use href="#m5d545ce8f8" x="212.4" y="200.867397" style="stroke: #000000; stroke-width: 0.8"/>
</g>
</g>
</g>
</g>
<g id="line2d_96">
<path d="M 212.4 251.07 
L 216.46 251.07 
L 216.5 250.84 
L 216.62 226.83 
L 216.74 202.5 
L 216.78 202.52 
L 217.07 202.81 
L 217.32 203.2 
L 217.81 203.97 
L 218.63 204.65 
L 220.43 206.14 
L 222.56 208.18 
L 224.69 210.55 
L 226.33 212.66 
L 228.62 216.04 
L 229.93 218.39 
L 231.24 221.17 
L 232.88 225.31 
L 234.85 230.85 
L 235.83 234.67 
L 236.49 238 
L 237.64 244.01 
L 238.95 250.25 
L 239.27 250.9 
L 239.6 251.06 
L 244.52 251.07 
L 298.39 251.07 
L 298.43 250.84 
L 298.55 226.83 
L 298.68 202.5 
L 298.72 202.52 
L 299 202.81 
L 299.25 203.2 
L 299.74 203.97 
L 300.56 204.65 
L 302.36 206.14 
L 304.49 208.18 
L 306.62 210.55 
L 308.26 212.66 
L 310.56 216.04 
L 311.87 218.39 
L 313.18 221.17 
L 314.82 225.31 
L 316.78 230.85 
L 317.77 234.67 
L 318.42 238 
L 319.57 244.01 
L 320.88 250.25 
L 321.21 250.9 
L 321.54 251.06 
L 326.45 251.07 
L 376.27 251.07 
L 376.27 251.07 
" clip-path="url(#p045f9b5aab)" style="fill: none; stroke: #440154; stroke-width: 1.5; stroke-linecap: square"/>
</g>
<g id="line2d_97">
<path d="M 212.4 251.07 
L 216.46 251.07 
L 216.5 250.84 
L 216.62 226.83 
L 216.74 202.5 
L 216.78 202.52 
L 217.07 202.81 
L 217.32 203.2 
L 217.81 203.97 
L 218.63 204.65 
L 220.43 206.14 
L 222.56 208.18 
L 224.69 210.55 
L 226.33 212.66 
L 228.62 216.04 
L 229.93 218.39 
L 231.24 221.17 
L 232.88 225.31 
L 234.85 230.85 
L 235.83 234.67 
L 236.49 238 
L 237.64 244.01 
L 238.95 250.25 
L 239.27 250.9 
L 239.6 251.06 
L 244.52 251.07 
L 298.39 251.07 
L 298.43 250.84 
L 298.55 226.83 
L 298.68 202.5 
L 298.72 202.52 
L 299 202.81 
L 299.25 203.2 
L 299.74 203.97 
L 300.56 204.65 
L 302.36 206.14 
L 304.49 208.18 
L 306.62 210.55 
L 308.26 212.66 
L 310.56 216.04 
L 311.87 218.39 
L 313.18 221.17 
L 314.82 225.31 
L 316.78 230.85 
L 317.77 234.67 
L 318.42 238 
L 319.57 244.01 
L 320.88 250.25 
L 321.21 250.9 
L 321.54 251.06 
L 326.45 251.07 
L 376.27 251.07 
L 376.27 251.07 
" clip-path="url(#p045f9b5aab)" style="fill: none; stroke: #46327e; stroke-width: 1.5; stroke-linecap: square"/>
</g>
<g id="line2d_98">
<path d="M 212.4 251.07 
L 216.46 251.07 
L 216.5 250.84 
L 216.62 226.83 
L 216.74 202.5 
L 216.78 202.52 
L 217.07 202.81 
L 217.32 203.2 
L 217.81 203.97 
L 218.63 204.65 
L 220.43 206.14 
L 222.89 208.47 
L 224.53 210.23 
L 226.33 212.52 
L 228.62 215.88 
L 229.93 218.19 
L 231.24 220.94 
L 232.72 224.62 
L 234.85 230.51 
L 235.83 234.24 
L 236.49 237.42 
L 237.8 244.35 
L 239.11 250.46 
L 239.44 250.95 
L 239.77 251.07 
L 298.39 251.07 
L 298.43 250.84 
L 298.55 226.83 
L 298.68 202.5 
L 298.72 202.52 
L 299 202.81 
L 299.25 203.2 
L 299.74 203.97 
L 300.56 204.65 
L 302.36 206.14 
L 304.82 208.47 
L 306.46 210.23 
L 308.26 212.52 
L 310.56 215.88 
L 311.87 218.19 
L 313.18 220.94 
L 314.65 224.62 
L 316.78 230.51 
L 317.77 234.24 
L 318.42 237.42 
L 319.73 244.35 
L 321.04 250.46 
L 321.37 250.95 
L 321.7 251.07 
L 376.27 251.07 
L 376.27 251.07 
" clip-path="url(#p045f9b5aab)" style="fill: none; stroke: #365c8d; stroke-width: 1.5; stroke-linecap: square"/>
</g>
<g id="line2d_99">
<path d="M 212.4 251.07 
L 216.46 251.07 
L 216.5 250.84 
L 216.62 226.83 
L 216.74 202.5 
L 216.78 202.52 
L 217.07 202.81 
L 217.32 203.2 
L 217.81 203.97 
L 218.63 204.65 
L 220.43 206.14 
L 223.71 209.21 
L 225.02 210.69 
L 226.82 213.07 
L 228.95 216.26 
L 230.26 218.64 
L 231.57 221.47 
L 233.37 226.09 
L 235.01 230.73 
L 236 234.51 
L 236.65 237.79 
L 237.8 243.82 
L 239.11 250.12 
L 239.44 250.88 
L 239.77 251.06 
L 241.57 251.07 
L 298.39 251.07 
L 298.43 250.84 
L 298.55 226.83 
L 298.68 202.5 
L 298.72 202.52 
L 299 202.81 
L 299.25 203.2 
L 299.74 203.97 
L 300.56 204.65 
L 302.36 206.14 
L 305.64 209.21 
L 306.95 210.69 
L 308.75 213.07 
L 310.88 216.26 
L 312.19 218.64 
L 313.51 221.47 
L 315.31 226.09 
L 316.95 230.73 
L 317.93 234.51 
L 318.59 237.79 
L 319.73 243.82 
L 321.04 250.12 
L 321.37 250.88 
L 321.7 251.06 
L 323.5 251.07 
L 376.27 251.07 
L 376.27 251.07 
" clip-path="url(#p045f9b5aab)" style="fill: none; stroke: #277f8e; stroke-width: 1.5; stroke-linecap: square"/>
</g>
<g id="line2d_100">
<path d="M 212.4 251.07 
L 216.46 251.07 
L 216.5 250.84 
L 216.62 226.83 
L 216.74 202.5 
L 216.78 202.51 
L 217.07 202.78 
L 217.32 203.15 
L 217.81 203.9 
L 218.63 204.56 
L 220.27 205.9 
L 222.72 208.14 
L 225.84 211.35 
L 231.57 218.17 
L 233.05 220.39 
L 234.03 222.3 
L 235.34 225.61 
L 238.45 234.12 
L 239.27 237.56 
L 241.73 249.88 
L 242.06 250.7 
L 242.39 251.04 
L 243.21 251.07 
L 298.39 251.07 
L 298.43 250.84 
L 298.55 226.83 
L 298.68 202.5 
L 298.72 202.51 
L 299 202.78 
L 299.25 203.15 
L 299.74 203.9 
L 300.56 204.56 
L 302.2 205.9 
L 304.66 208.14 
L 307.77 211.35 
L 313.51 218.17 
L 314.98 220.39 
L 315.96 222.3 
L 317.27 225.61 
L 320.39 234.12 
L 321.21 237.56 
L 323.67 249.88 
L 323.99 250.7 
L 324.32 251.04 
L 325.14 251.07 
L 376.27 251.07 
L 376.27 251.07 
" clip-path="url(#p045f9b5aab)" style="fill: none; stroke: #1fa187; stroke-width: 1.5; stroke-linecap: square"/>
</g>
<g id="line2d_101">
<path d="M 212.4 251.07 
L 216.46 251.07 
L 216.5 250.84 
L 216.62 226.83 
L 216.74 202.5 
L 216.78 202.51 
L 217.11 202.79 
L 217.48 203.32 
L 217.97 203.86 
L 220.76 205.95 
L 224.03 208.59 
L 226.16 210.7 
L 230.75 215.22 
L 233.37 217.66 
L 234.36 218.9 
L 235.83 221.15 
L 237.47 223.97 
L 240.42 229.67 
L 241.4 231.76 
L 242.22 234.21 
L 243.86 239.21 
L 244.68 243 
L 246.16 249.72 
L 246.48 250.63 
L 246.98 251.05 
L 247.96 251.07 
L 298.39 251.07 
L 298.43 250.84 
L 298.55 226.83 
L 298.68 202.5 
L 298.72 202.51 
L 299.04 202.79 
L 299.41 203.32 
L 299.9 203.86 
L 302.69 205.95 
L 305.97 208.59 
L 308.1 210.7 
L 312.69 215.22 
L 315.31 217.66 
L 316.29 218.9 
L 317.77 221.15 
L 319.4 223.97 
L 322.35 229.67 
L 323.34 231.76 
L 324.16 234.21 
L 325.8 239.21 
L 326.62 243 
L 328.09 249.72 
L 328.42 250.63 
L 328.91 251.05 
L 329.89 251.07 
L 376.27 251.07 
L 376.27 251.07 
" clip-path="url(#p045f9b5aab)" style="fill: none; stroke: #4ac16d; stroke-width: 1.5; stroke-linecap: square"/>
</g>
<g id="line2d_102">
<path d="M 212.4 251.07 
L 216.46 251.07 
L 216.5 250.84 
L 216.62 226.83 
L 216.74 202.34 
L 216.78 202.35 
L 217.15 202.66 
L 219.12 204.28 
L 221.41 205.82 
L 227.64 209.7 
L 229.93 211.96 
L 231.74 213.73 
L 233.21 214.74 
L 235.67 216.4 
L 239.6 219.38 
L 241.08 220.73 
L 246.48 226.12 
L 248.45 227.44 
L 254.35 231.14 
L 255.82 232.44 
L 256.97 233.74 
L 258.61 236.07 
L 259.43 237.59 
L 260.09 239.26 
L 261.07 242.69 
L 261.56 245.14 
L 262.38 249.39 
L 262.71 250.46 
L 263.03 250.91 
L 263.53 251.07 
L 298.39 251.07 
L 298.43 250.84 
L 298.55 226.83 
L 298.68 202.34 
L 298.72 202.35 
L 299.09 202.66 
L 301.05 204.28 
L 303.35 205.82 
L 309.57 209.7 
L 311.87 211.96 
L 313.67 213.73 
L 315.14 214.74 
L 317.6 216.4 
L 321.54 219.38 
L 323.01 220.73 
L 328.42 226.12 
L 330.38 227.44 
L 336.28 231.14 
L 337.76 232.44 
L 338.91 233.74 
L 340.54 236.07 
L 341.36 237.59 
L 342.02 239.26 
L 343 242.69 
L 343.49 245.14 
L 344.31 249.39 
L 344.64 250.46 
L 344.97 250.91 
L 345.46 251.07 
L 376.27 251.07 
L 376.27 251.07 
" clip-path="url(#p045f9b5aab)" style="fill: none; stroke: #a0da39; stroke-width: 1.5; stroke-linecap: square"/>
</g>
<g id="line2d_103">
<path d="M 212.4 251.07 
L 216.46 251.07 
L 216.5 250.64 
L 216.7 201.53 
L 216.82 201.61 
L 217.48 202.22 
L 218.79 202.89 
L 221.41 204.12 
L 223.38 205.53 
L 227.97 209.03 
L 231.74 211.84 
L 241.73 218.92 
L 247.8 223.66 
L 249.11 224.39 
L 250.91 225.07 
L 253.37 225.77 
L 256.48 226.4 
L 259.59 226.36 
L 261.07 226.08 
L 263.03 225.51 
L 271.88 222.42 
L 274.18 222.05 
L 275.65 222.07 
L 277.62 222.33 
L 279.42 222.76 
L 283.19 224.35 
L 286.3 225.5 
L 288.76 226.13 
L 292.37 226.81 
L 295.32 227.12 
L 298.1 227.17 
L 298.27 227.12 
L 298.39 213.91 
L 298.51 198.5 
L 298.55 198.54 
L 298.8 199.1 
L 299.17 200.54 
L 299.58 202.06 
L 300.56 204.63 
L 301.71 206.96 
L 303.18 209.43 
L 305.15 212.25 
L 307.11 214.69 
L 309.08 216.79 
L 316.95 224.66 
L 319.08 226.74 
L 321.04 228.27 
L 325.14 231.41 
L 326.94 233.03 
L 328.42 234.58 
L 329.56 236.1 
L 330.55 237.79 
L 331.37 239.69 
L 332.02 242.06 
L 332.84 245.95 
L 333.66 249.73 
L 333.99 250.53 
L 334.32 250.93 
L 334.81 251.07 
L 376.27 251.07 
L 376.27 251.07 
" clip-path="url(#p045f9b5aab)" style="fill: none; stroke: #fde725; stroke-width: 1.5; stroke-linecap: square"/>
</g>
<g id="patch_25">
<path d="M 212.4 254.1 
L 212.4 193.4 
" style="fill: none; stroke: #000000; stroke-width: 0.8; stroke-linejoin: miter; stroke-linecap: square"/>
</g>
<g id="patch_26">
<path d="M 376.27 254.1 
L 376.27 193.4 
" style="fill: none; stroke: #000000; stroke-width: 0.8; stroke-linejoin: miter; stroke-linecap: square"/>
</g>
<g id="patch_27">
<path d="M 212.4 254.1 
L 376.27 254.1 
" style="fill: none; stroke: #000000; stroke-width: 0.8; stroke-linejoin: miter; stroke-linecap: square"/>
</g>
<g id="patch_28">
<path d="M 212.4 193.4 
L 376.27 193.4 
" style="fill: none; stroke: #000000; stroke-width: 0.8; stroke-linejoin: miter; stroke-linecap: square"/>
</g>
<g id="text_40">
<text style="font-size: 9.6px; font-family: 'DejaVu Sans', 'Liberation Sans', sans-serif; text-anchor: middle" x="294.333333" y="187.4" transform="rotate(-0 294.333333 187.4)">AP-conductance scaling model</text>
</g>
</g>
<g id="axes_8">
<g id="patch_29">
<path d="M 212.4 319.67 
L 376.27 319.67 
L 376.27 258.97 
L 212.4 258.97 
z
" style="fill: #ffffff"/>
</g>
<g id="matplotlib.axis_15">
<g id="xtick_40">
<g id="line2d_104">
<g>
<use href="#m1504cfccaf" x="212.4" y="319.666667" style="stroke: #000000; stroke-width: 0.8"/>
</g>
</g>
<g id="text_41">
<text style="font-size: 8px; font-family: 'DejaVu Sans', 'Liberation Sans', sans-serif; text-anchor: middle" x="212.4" y="332.745417" transform="rotate(-0 212.4 332.745417)">0</text>
</g>
</g>
<g id="xtick_41">
<g id="line2d_105">
<g>
<use href="#m1504cfccaf" x="253.366667" y="319.666667" style="stroke: #000000; stroke-width: 0.8"/>
</g>
</g>
<g id="text_42">
<text style="font-size: 8px; font-family: 'DejaVu Sans', 'Liberation Sans', sans-serif; text-anchor: middle" x="253.366667" y="332.745417" transform="rotate(-0 253.366667 332.745417)">500</text>
</g>
</g>
<g id="xtick_42">
<g id="line2d_106">
<g>
<use href="#m1504cfccaf" x="294.333333" y="319.666667" style="stroke: #000000; stroke-width: 0.8"/>
</g>
</g>
<g id="text_43">
<text style="font-size: 8px; font-family: 'DejaVu Sans', 'Liberation Sans', sans-serif; text-anchor: middle" x="294.333333" y="332.745417" transform="rotate(-0 294.333333 332.745417)">1000</text>
</g>
</g>
<g id="xtick_43">
<g id="line2d_107">
<g>
<use href="#m1504cfccaf" x="335.3" y="319.666667" style="stroke: #000000; stroke-width: 0.8"/>
</g>
</g>
<g id="text_44">
<text style="font-size: 8px; font-family: 'DejaVu Sans', 'Liberation Sans', sans-serif; text-anchor: middle" x="335.3" y="332.745417" transform="rotate(-0 335.3 332.745417)">1500</text>
</g>
</g>
<g id="xtick_44">
<g id="line2d_108">
<g>
<use href="#m1504cfccaf" x="376.266667" y="319.666667" style="stroke: #000000; stroke-width: 0.8"/>
</g>
</g>
<g id="text_45">
<text style="font-size: 8px; font-family: 'DejaVu Sans', 'Liberation Sans', sans-serif; text-anchor: middle" x="376.266667" y="332.745417" transform="rotate(-0 376.266667 332.745417)">2000</text>
</g>
</g>
<g id="text_46">
<text style="font-size: 8px; font-family: 'DejaVu Sans', 'Liberation Sans', sans-serif; text-anchor: middle" x="294.333333" y="344.487917" transform="rotate(-0 294.333333 344.487917)">Time (ms)</text>
</g>
</g>
<g id="matplotlib.axis_16">
<g id="ytick_23">
<g id="line2d_109">
<g>
<use href="#m5d545ce8f8" x="212.4" y="316.769194" style="stroke: #000000; stroke-width: 0.8"/>
</g>
</g>
</g>
<g id="ytick_24">
<g id="line2d_110">
<g>
<use href="#m5d545ce8f8" x="212.4" y="287.383059" style="stroke: #000000; stroke-width: 0.8"/>
</g>
</g>
</g>
</g>
<g id="line2d_111">
<path d="M 212.4 316.77 
L 216.41 316.77 
L 216.5 315.76 
L 217.32 302.45 
L 218.14 296.46 
L 218.79 293.25 
L 219.61 290.46 
L 220.92 286.82 
L 221.9 284.77 
L 224.85 279.43 
L 226.98 275.5 
L 229.11 271.09 
L 230.59 267.34 
L 231.57 264.93 
L 232.56 263.06 
L 233.21 262.1 
L 233.7 261.73 
L 234.03 261.73 
L 234.52 261.97 
L 235.01 262.64 
L 235.51 263.91 
L 236 265.81 
L 236.32 267.94 
L 236.98 275.22 
L 237.64 285.28 
L 239.27 315.94 
L 239.6 316.57 
L 239.93 316.72 
L 241.57 316.77 
L 298.35 316.77 
L 298.43 315.76 
L 299.25 302.45 
L 300.07 296.46 
L 300.72 293.25 
L 301.54 290.46 
L 302.85 286.82 
L 303.84 284.77 
L 306.79 279.43 
L 308.92 275.5 
L 311.05 271.09 
L 312.52 267.34 
L 313.51 264.93 
L 314.49 263.06 
L 315.14 262.1 
L 315.64 261.73 
L 315.96 261.73 
L 316.46 261.97 
L 316.95 262.64 
L 317.44 263.91 
L 317.93 265.81 
L 318.26 267.94 
L 318.91 275.22 
L 319.57 285.28 
L 321.21 315.94 
L 321.54 316.57 
L 321.86 316.72 
L 323.5 316.77 
L 376.27 316.77 
L 376.27 316.77 
" clip-path="url(#p8f012c2bfc)" style="fill: none; stroke: #440154; stroke-width: 1.5; stroke-linecap: square"/>
</g>
<g id="line2d_112">
<path d="M 212.4 316.77 
L 216.41 316.77 
L 216.5 315.76 
L 217.32 302.45 
L 218.14 296.46 
L 218.79 293.25 
L 219.61 290.46 
L 220.92 286.82 
L 221.9 284.77 
L 224.85 279.43 
L 226.98 275.5 
L 229.11 271.09 
L 230.59 267.34 
L 231.57 264.93 
L 232.56 263.06 
L 233.21 262.1 
L 233.7 261.73 
L 234.03 261.73 
L 234.52 261.97 
L 235.01 262.64 
L 235.51 263.91 
L 236 265.81 
L 236.32 267.94 
L 236.98 275.22 
L 237.64 285.28 
L 239.27 315.94 
L 239.6 316.57 
L 239.93 316.72 
L 241.57 316.77 
L 298.35 316.77 
L 298.43 315.76 
L 299.25 302.45 
L 300.07 296.46 
L 300.72 293.25 
L 301.54 290.46 
L 302.85 286.82 
L 303.84 284.77 
L 306.79 279.43 
L 308.92 275.5 
L 311.05 271.09 
L 312.52 267.34 
L 313.51 264.93 
L 314.49 263.06 
L 315.14 262.1 
L 315.64 261.73 
L 315.96 261.73 
L 316.46 261.97 
L 316.95 262.64 
L 317.44 263.91 
L 317.93 265.81 
L 318.26 267.94 
L 318.91 275.22 
L 319.57 285.28 
L 321.21 315.94 
L 321.54 316.57 
L 321.86 316.72 
L 323.5 316.77 
L 376.27 316.77 
L 376.27 316.77 
" clip-path="url(#p8f012c2bfc)" style="fill: none; stroke: #46327e; stroke-width: 1.5; stroke-linecap: square"/>
</g>
<g id="line2d_113">
<path d="M 212.4 316.77 
L 216.41 316.77 
L 216.5 315.77 
L 217.32 302.56 
L 218.14 296.62 
L 218.79 293.44 
L 219.61 290.67 
L 220.92 287.06 
L 221.9 285.03 
L 224.85 279.72 
L 226.98 275.83 
L 229.11 271.45 
L 230.59 267.73 
L 231.41 265.72 
L 232.39 263.91 
L 233.37 262.48 
L 233.87 262.15 
L 234.36 262.25 
L 234.69 262.48 
L 235.18 263.19 
L 235.67 264.54 
L 236.16 266.54 
L 236.49 268.91 
L 237.14 276.39 
L 237.8 286.79 
L 239.27 315.35 
L 239.6 316.44 
L 239.93 316.7 
L 241.4 316.77 
L 298.35 316.77 
L 298.43 315.77 
L 299.25 302.56 
L 300.07 296.62 
L 300.72 293.44 
L 301.54 290.67 
L 302.85 287.06 
L 303.84 285.03 
L 306.79 279.72 
L 308.92 275.83 
L 311.05 271.45 
L 312.52 267.73 
L 313.34 265.72 
L 314.33 263.91 
L 315.31 262.48 
L 315.8 262.15 
L 316.29 262.25 
L 316.62 262.48 
L 317.11 263.19 
L 317.6 264.54 
L 318.09 266.54 
L 318.42 268.91 
L 319.08 276.39 
L 319.73 286.79 
L 321.21 315.35 
L 321.54 316.44 
L 321.86 316.7 
L 323.34 316.77 
L 376.27 316.77 
L 376.27 316.77 
" clip-path="url(#p8f012c2bfc)" style="fill: none; stroke: #365c8d; stroke-width: 1.5; stroke-linecap: square"/>
</g>
<g id="line2d_114">
<path d="M 212.4 316.77 
L 216.41 316.77 
L 216.5 315.8 
L 217.32 303.02 
L 218.14 297.27 
L 218.79 294.19 
L 219.61 291.52 
L 220.92 288.02 
L 221.9 286.05 
L 224.85 280.92 
L 226.98 277.15 
L 229.11 272.91 
L 230.59 269.3 
L 231.41 267.38 
L 232.39 265.75 
L 233.54 264.18 
L 234.03 263.9 
L 234.52 264.03 
L 234.85 264.3 
L 235.34 265.05 
L 235.83 266.43 
L 236.32 268.5 
L 236.65 271.06 
L 237.31 278.52 
L 237.8 285.88 
L 239.44 315.81 
L 239.77 316.53 
L 240.09 316.71 
L 241.73 316.77 
L 298.35 316.77 
L 298.43 315.8 
L 299.25 303.02 
L 300.07 297.27 
L 300.72 294.19 
L 301.54 291.52 
L 302.85 288.02 
L 303.84 286.05 
L 306.79 280.92 
L 308.92 277.15 
L 311.05 272.91 
L 312.52 269.3 
L 313.34 267.38 
L 314.33 265.75 
L 315.47 264.18 
L 315.96 263.9 
L 316.46 264.03 
L 316.78 264.3 
L 317.27 265.05 
L 317.77 266.43 
L 318.26 268.5 
L 318.59 271.06 
L 319.24 278.52 
L 319.73 285.88 
L 321.37 315.81 
L 321.7 316.53 
L 322.03 316.71 
L 323.67 316.77 
L 376.27 316.77 
L 376.27 316.77 
" clip-path="url(#p8f012c2bfc)" style="fill: none; stroke: #277f8e; stroke-width: 1.5; stroke-linecap: square"/>
</g>
<g id="line2d_115">
<path d="M 212.4 316.77 
L 216.41 316.77 
L 216.82 305.58 
L 217.32 303.22 
L 217.97 300.84 
L 218.79 298.58 
L 219.77 296.62 
L 222.4 292.24 
L 224.69 288.88 
L 235.34 274.18 
L 235.83 273.93 
L 236.49 273.87 
L 236.82 274.08 
L 237.64 275.07 
L 238.29 276.35 
L 238.78 277.81 
L 239.11 279.19 
L 239.44 281.27 
L 239.77 284.7 
L 240.59 296.23 
L 241.24 304.69 
L 242.39 316.23 
L 242.72 316.66 
L 243.04 316.77 
L 298.35 316.77 
L 298.76 305.58 
L 299.25 303.22 
L 299.9 300.84 
L 300.72 298.58 
L 301.71 296.62 
L 304.33 292.24 
L 306.62 288.88 
L 317.27 274.18 
L 317.77 273.93 
L 318.42 273.87 
L 318.75 274.08 
L 319.57 275.07 
L 320.22 276.35 
L 320.72 277.81 
L 321.04 279.19 
L 321.37 281.27 
L 321.7 284.7 
L 322.52 296.23 
L 323.17 304.69 
L 324.32 316.23 
L 324.65 316.66 
L 324.98 316.77 
L 376.27 316.77 
L 376.27 316.77 
" clip-path="url(#p8f012c2bfc)" style="fill: none; stroke: #1fa187; stroke-width: 1.5; stroke-linecap: square"/>
</g>
<g id="line2d_116">
<path d="M 212.4 316.77 
L 216.41 316.77 
L 217.15 308.1 
L 217.64 306.11 
L 218.3 304.24 
L 218.95 302.97 
L 219.77 301.79 
L 220.76 300.73 
L 222.23 299.55 
L 225.67 297.01 
L 230.75 293.22 
L 234.19 290.35 
L 238.45 286.72 
L 239.11 286.51 
L 240.09 286.46 
L 240.91 286.78 
L 241.4 287.19 
L 242.22 288.22 
L 242.88 289.45 
L 243.37 290.87 
L 244.19 294.13 
L 244.68 296.97 
L 245.34 302.24 
L 246.32 312.34 
L 246.65 315.33 
L 246.98 316.42 
L 247.3 316.71 
L 247.8 316.77 
L 298.35 316.77 
L 299.09 308.1 
L 299.58 306.11 
L 300.23 304.24 
L 300.89 302.97 
L 301.71 301.79 
L 302.69 300.73 
L 304.17 299.55 
L 307.61 297.01 
L 312.69 293.22 
L 316.13 290.35 
L 320.39 286.72 
L 321.04 286.51 
L 322.03 286.46 
L 322.85 286.78 
L 323.34 287.19 
L 324.16 288.22 
L 324.81 289.45 
L 325.3 290.87 
L 326.12 294.13 
L 326.62 296.97 
L 327.27 302.24 
L 328.25 312.34 
L 328.58 315.33 
L 328.91 316.42 
L 329.24 316.71 
L 329.73 316.77 
L 376.27 316.77 
L 376.27 316.77 
" clip-path="url(#p8f012c2bfc)" style="fill: none; stroke: #4ac16d; stroke-width: 1.5; stroke-linecap: square"/>
</g>
<g id="line2d_117">
<path d="M 212.4 316.77 
L 216.46 316.7 
L 216.82 315.42 
L 217.32 314.68 
L 217.97 314.1 
L 218.79 313.69 
L 220.27 313.34 
L 225.35 312.57 
L 232.72 311.39 
L 238.95 310.3 
L 243.7 309.72 
L 248.29 309.37 
L 253.37 309.47 
L 255.99 309.82 
L 257.79 310.32 
L 258.77 310.79 
L 259.59 311.4 
L 260.41 312.32 
L 261.4 313.91 
L 262.22 315.64 
L 262.54 316.39 
L 262.87 316.73 
L 263.53 316.77 
L 298.39 316.7 
L 298.76 315.42 
L 299.25 314.68 
L 299.9 314.1 
L 300.72 313.69 
L 302.2 313.34 
L 307.28 312.57 
L 314.65 311.39 
L 320.88 310.3 
L 325.63 309.72 
L 330.22 309.37 
L 335.3 309.47 
L 337.92 309.82 
L 339.72 310.32 
L 340.71 310.79 
L 341.53 311.4 
L 342.35 312.32 
L 343.33 313.91 
L 344.15 315.64 
L 344.48 316.39 
L 344.8 316.73 
L 345.46 316.77 
L 376.27 316.77 
L 376.27 316.77 
" clip-path="url(#p8f012c2bfc)" style="fill: none; stroke: #a0da39; stroke-width: 1.5; stroke-linecap: square"/>
</g>
<g id="line2d_118">
<path d="M 212.4 316.77 
L 216.62 316.68 
L 217.11 316.42 
L 219.12 316.28 
L 237.47 315.75 
L 247.8 315.78 
L 274.67 315.93 
L 329.89 316.03 
L 331.86 316.4 
L 333.5 316.76 
L 335.96 316.77 
L 376.27 316.77 
L 376.27 316.77 
" clip-path="url(#p8f012c2bfc)" style="fill: none; stroke: #fde725; stroke-width: 1.5; stroke-linecap: square"/>
</g>
<g id="patch_30">
<path d="M 212.4 319.67 
L 212.4 258.97 
" style="fill: none; stroke: #000000; stroke-width: 0.8; stroke-linejoin: miter; stroke-linecap: square"/>
</g>
<g id="patch_31">
<path d="M 376.27 319.67 
L 376.27 258.97 
" style="fill: none; stroke: #000000; stroke-width: 0.8; stroke-linejoin: miter; stroke-linecap: square"/>
</g>
<g id="patch_32">
<path d="M 212.4 319.67 
L 376.27 319.67 
" style="fill: none; stroke: #000000; stroke-width: 0.8; stroke-linejoin: miter; stroke-linecap: square"/>
</g>
<g id="patch_33">
<path d="M 212.4 258.97 
L 376.27 258.97 
" style="fill: none; stroke: #000000; stroke-width: 0.8; stroke-linejoin: miter; stroke-linecap: square"/>
</g>
</g>
<g id="axes_9">
<g id="patch_34">
<path d="M 426.67 142.8 
L 590.23 142.8 
L 590.23 16.57 
L 426.67 16.57 
z
" style="fill: #ffffff"/>
</g>
<g id="matplotlib.axis_17">
<g id="xtick_45">
<g id="line2d_119">
<g>
<use href="#m1504cfccaf" x="458.884343" y="142.8" style="stroke: #000000; stroke-width: 0.8"/>
</g>
</g>
<g id="text_47">
<!-- $\mathdefault{10^{0}}$ -->
<g transform="translate(451.844343 155.87875)">
<text>
<tspan x="0" y="0.0000" style="font-size: 8px; font-family: 'DejaVu Sans', 'Liberation Sans', sans-serif">1</tspan>
<tspan x="5.089844" y="0.0000" style="font-size: 8px; font-family: 'DejaVu Sans', 'Liberation Sans', sans-serif">0</tspan>
<tspan x="10.25625" y="-3.0625" style="font-size: 5.6px; font-family: 'DejaVu Sans', 'Liberation Sans', sans-serif">0</tspan>
</text>
</g>
</g>
</g>
<g id="xtick_46">
<g id="line2d_120">
<g>
<use href="#m1504cfccaf" x="508.45" y="142.8" style="stroke: #000000; stroke-width: 0.8"/>
</g>
</g>
<g id="text_48">
<!-- $\mathdefault{10^{2}}$ -->
<g transform="translate(501.41 155.87875)">
<text>
<tspan x="0" y="0.0000" style="font-size: 8px; font-family: 'DejaVu Sans', 'Liberation Sans', sans-serif">1</tspan>
<tspan x="5.089844" y="0.0000" style="font-size: 8px; font-family: 'DejaVu Sans', 'Liberation Sans', sans-serif">0</tspan>
<tspan x="10.25625" y="-3.0625" style="font-size: 5.6px; font-family: 'DejaVu Sans', 'Liberation Sans', sans-serif">2</tspan>
</text>
</g>
</g>
</g>
<g id="xtick_47">
<g id="line2d_121">
<g>
<use href="#m1504cfccaf" x="558.015657" y="142.8" style="stroke: #000000; stroke-width: 0.8"/>
</g>
</g>
<g id="text_49">
<!-- $\mathdefault{10^{4}}$ -->
<g transform="translate(550.975657 155.87875)">
<text>
<tspan x="0" y="0.0000" style="font-size: 8px; font-family: 'DejaVu Sans', 'Liberation Sans', sans-serif">1</tspan>
<tspan x="5.089844" y="0.0000" style="font-size: 8px; font-family: 'DejaVu Sans', 'Liberation Sans', sans-serif">0</tspan>
<tspan x="10.25625" y="-3.0625" style="font-size: 5.6px; font-family: 'DejaVu Sans', 'Liberation Sans', sans-serif">4</tspan>
</text>
</g>
</g>
</g>
<g id="text_50">
<text style="font-size: 8px; font-family: 'DejaVu Sans', 'Liberation Sans', sans-serif; text-anchor: middle" x="508.45" y="167.62125" transform="rotate(-0 508.45 167.62125)">Drug concentration (nM)</text>
</g>
</g>
<g id="matplotlib.axis_18">
<g id="ytick_25">
<g id="line2d_122">
<g>
<use href="#m5d545ce8f8" x="426.666667" y="116.726909" style="stroke: #000000; stroke-width: 0.8"/>
</g>
</g>
<g id="text_51">
<text style="font-size: 8px; font-family: 'DejaVu Sans', 'Liberation Sans', sans-serif; text-anchor: end" x="419.666667" y="119.766284" transform="rotate(-0 419.666667 119.766284)">400</text>
</g>
</g>
<g id="ytick_26">
<g id="line2d_123">
<g>
<use href="#m5d545ce8f8" x="426.666667" y="87.627478" style="stroke: #000000; stroke-width: 0.8"/>
</g>
</g>
<g id="text_52">
<text style="font-size: 8px; font-family: 'DejaVu Sans', 'Liberation Sans', sans-serif; text-anchor: end" x="419.666667" y="90.666853" transform="rotate(-0 419.666667 90.666853)">600</text>
</g>
</g>
<g id="ytick_27">
<g id="line2d_124">
<g>
<use href="#m5d545ce8f8" x="426.666667" y="58.528047" style="stroke: #000000; stroke-width: 0.8"/>
</g>
</g>
<g id="text_53">
<text style="font-size: 8px; font-family: 'DejaVu Sans', 'Liberation Sans', sans-serif; text-anchor: end" x="419.666667" y="61.567422" transform="rotate(-0 419.666667 61.567422)">800</text>
</g>
</g>
<g id="ytick_28">
<g id="line2d_125">
<g>
<use href="#m5d545ce8f8" x="426.666667" y="29.428615" style="stroke: #000000; stroke-width: 0.8"/>
</g>
</g>
<g id="text_54">
<text style="font-size: 8px; font-family: 'DejaVu Sans', 'Liberation Sans', sans-serif; text-anchor: end" x="419.666667" y="32.46799" transform="rotate(-0 419.666667 32.46799)">1000</text>
</g>
</g>
<g id="text_55">
<!-- APD$_{90}$ (ms) -->
<g transform="translate(393.642917 102.003333) rotate(-90)">
<text>
<tspan x="0" y="0.4000" style="font-size: 8px; font-family: 'DejaVu Sans', 'Liberation Sans', sans-serif">A</tspan>
<tspan x="5.472656" y="0.4000" style="font-size: 8px; font-family: 'DejaVu Sans', 'Liberation Sans', sans-serif">P</tspan>
<tspan x="10.296875" y="0.4000" style="font-size: 8px; font-family: 'DejaVu Sans', 'Liberation Sans', sans-serif">D</tspan>
<tspan x="23.878125" y="0.4000" style="font-size: 8px; font-family: 'DejaVu Sans', 'Liberation Sans', sans-serif"> </tspan>
<tspan x="26.421094" y="0.4000" style="font-size: 8px; font-family: 'DejaVu Sans', 'Liberation Sans', sans-serif">(</tspan>
<tspan x="29.542188" y="0.4000" style="font-size: 8px; font-family: 'DejaVu Sans', 'Liberation Sans', sans-serif">m</tspan>
<tspan x="37.335156" y="0.4000" style="font-size: 8px; font-family: 'DejaVu Sans', 'Liberation Sans', sans-serif">s</tspan>
<tspan x="41.503125" y="0.4000" style="font-size: 8px; font-family: 'DejaVu Sans', 'Liberation Sans', sans-serif">)</tspan>
<tspan x="16.533594" y="1.7125" style="font-size: 5.6px; font-family: 'DejaVu Sans', 'Liberation Sans', sans-serif">9</tspan>
<tspan x="20.096484" y="1.7125" style="font-size: 5.6px; font-family: 'DejaVu Sans', 'Liberation Sans', sans-serif">0</tspan>
</text>
</g>
</g>
</g>
<g id="line2d_126">
<defs>
<path id="m3cc280db12" d="M 0 3 
C 0.8 3 1.56 2.68 2.12 2.12 
C 2.68 1.56 3 0.8 3 0 
C 3 -0.8 2.68 -1.56 2.12 -2.12 
C 1.56 -2.68 0.8 -3 0 -3 
C -0.8 -3 -1.56 -2.68 -2.12 -2.12 
C -2.68 -1.56 -3 -0.8 -3 0 
C -3 0.8 -2.68 1.56 -2.12 2.12 
C -1.56 2.68 -0.8 3 0 3 
z
" style="stroke: #ffa500"/>
</defs>
<g clip-path="url(#p4ebd17d41c)">
<use href="#m3cc280db12" x="434.101515" y="136.951014" style="fill: #ffa500; stroke: #ffa500"/>
<use href="#m3cc280db12" x="441.927671" y="136.951014" style="fill: #ffa500; stroke: #ffa500"/>
<use href="#m3cc280db12" x="449.753828" y="136.951014" style="fill: #ffa500; stroke: #ffa500"/>
<use href="#m3cc280db12" x="457.579984" y="136.951014" style="fill: #ffa500; stroke: #ffa500"/>
<use href="#m3cc280db12" x="465.40614" y="136.951014" style="fill: #ffa500; stroke: #ffa500"/>
<use href="#m3cc280db12" x="473.232297" y="136.951014" style="fill: #ffa500; stroke: #ffa500"/>
<use href="#m3cc280db12" x="481.058453" y="136.951014" style="fill: #ffa500; stroke: #ffa500"/>
<use href="#m3cc280db12" x="488.884609" y="136.805517" style="fill: #ffa500; stroke: #ffa500"/>
<use href="#m3cc280db12" x="496.710766" y="135.728838" style="fill: #ffa500; stroke: #ffa500"/>
<use href="#m3cc280db12" x="504.536922" y="134.390264" style="fill: #ffa500; stroke: #ffa500"/>
<use href="#m3cc280db12" x="512.363078" y="131.494871" style="fill: #ffa500; stroke: #ffa500"/>
<use href="#m3cc280db12" x="520.189234" y="125.820482" style="fill: #ffa500; stroke: #ffa500"/>
<use href="#m3cc280db12" x="528.015391" y="115.286488" style="fill: #ffa500; stroke: #ffa500"/>
<use href="#m3cc280db12" x="535.841547" y="98.496116" style="fill: #ffa500; stroke: #ffa500"/>
<use href="#m3cc280db12" x="543.667703" y="79.596035" style="fill: #ffa500; stroke: #ffa500"/>
<use href="#m3cc280db12" x="551.49386" y="29.428615" style="fill: #ffa500; stroke: #ffa500"/>
<use href="#m3cc280db12" x="559.320016" y="29.428615" style="fill: #ffa500; stroke: #ffa500"/>
<use href="#m3cc280db12" x="567.146172" y="29.428615" style="fill: #ffa500; stroke: #ffa500"/>
<use href="#m3cc280db12" x="574.972329" y="29.428615" style="fill: #ffa500; stroke: #ffa500"/>
<use href="#m3cc280db12" x="582.798485" y="29.428615" style="fill: #ffa500; stroke: #ffa500"/>
</g>
</g>
<g id="line2d_127">
<defs>
<path id="m78c1c2180e" d="M 0 -3 
L -3 3 
L 3 3 
z
" style="stroke: #0000ff; stroke-opacity: 0.75; stroke-linejoin: miter"/>
</defs>
<g clip-path="url(#p4ebd17d41c)">
<use href="#m78c1c2180e" x="434.101515" y="136.951014" style="fill: #0000ff; fill-opacity: 0.75; stroke: #0000ff; stroke-opacity: 0.75; stroke-linejoin: miter"/>
<use href="#m78c1c2180e" x="441.927671" y="136.951014" style="fill: #0000ff; fill-opacity: 0.75; stroke: #0000ff; stroke-opacity: 0.75; stroke-linejoin: miter"/>
<use href="#m78c1c2180e" x="449.753828" y="136.951014" style="fill: #0000ff; fill-opacity: 0.75; stroke: #0000ff; stroke-opacity: 0.75; stroke-linejoin: miter"/>
<use href="#m78c1c2180e" x="457.579984" y="136.951014" style="fill: #0000ff; fill-opacity: 0.75; stroke: #0000ff; stroke-opacity: 0.75; stroke-linejoin: miter"/>
<use href="#m78c1c2180e" x="465.40614" y="136.951014" style="fill: #0000ff; fill-opacity: 0.75; stroke: #0000ff; stroke-opacity: 0.75; stroke-linejoin: miter"/>
<use href="#m78c1c2180e" x="473.232297" y="136.951014" style="fill: #0000ff; fill-opacity: 0.75; stroke: #0000ff; stroke-opacity: 0.75; stroke-linejoin: miter"/>
<use href="#m78c1c2180e" x="481.058453" y="136.951014" style="fill: #0000ff; fill-opacity: 0.75; stroke: #0000ff; stroke-opacity: 0.75; stroke-linejoin: miter"/>
<use href="#m78c1c2180e" x="488.884609" y="136.805517" style="fill: #0000ff; fill-opacity: 0.75; stroke: #0000ff; stroke-opacity: 0.75; stroke-linejoin: miter"/>
<use href="#m78c1c2180e" x="496.710766" y="135.888885" style="fill: #0000ff; fill-opacity: 0.75; stroke: #0000ff; stroke-opacity: 0.75; stroke-linejoin: miter"/>
<use href="#m78c1c2180e" x="504.536922" y="135.059551" style="fill: #0000ff; fill-opacity: 0.75; stroke: #0000ff; stroke-opacity: 0.75; stroke-linejoin: miter"/>
<use href="#m78c1c2180e" x="512.363078" y="133.720977" style="fill: #0000ff; fill-opacity: 0.75; stroke: #0000ff; stroke-opacity: 0.75; stroke-linejoin: miter"/>
<use href="#m78c1c2180e" x="520.189234" y="131.232976" style="fill: #0000ff; fill-opacity: 0.75; stroke: #0000ff; stroke-opacity: 0.75; stroke-linejoin: miter"/>
<use href="#m78c1c2180e" x="528.015391" y="127.290003" style="fill: #0000ff; fill-opacity: 0.75; stroke: #0000ff; stroke-opacity: 0.75; stroke-linejoin: miter"/>
<use href="#m78c1c2180e" x="535.841547" y="121.222772" style="fill: #0000ff; fill-opacity: 0.75; stroke: #0000ff; stroke-opacity: 0.75; stroke-linejoin: miter"/>
<use href="#m78c1c2180e" x="543.667703" y="113.13313" style="fill: #0000ff; fill-opacity: 0.75; stroke: #0000ff; stroke-opacity: 0.75; stroke-linejoin: miter"/>
<use href="#m78c1c2180e" x="551.49386" y="103.166574" style="fill: #0000ff; fill-opacity: 0.75; stroke: #0000ff; stroke-opacity: 0.75; stroke-linejoin: miter"/>
<use href="#m78c1c2180e" x="559.320016" y="92.559832" style="fill: #0000ff; fill-opacity: 0.75; stroke: #0000ff; stroke-opacity: 0.75; stroke-linejoin: miter"/>
<use href="#m78c1c2180e" x="567.146172" y="81.763943" style="fill: #0000ff; fill-opacity: 0.75; stroke: #0000ff; stroke-opacity: 0.75; stroke-linejoin: miter"/>
<use href="#m78c1c2180e" x="574.972329" y="29.428615" style="fill: #0000ff; fill-opacity: 0.75; stroke: #0000ff; stroke-opacity: 0.75; stroke-linejoin: miter"/>
<use href="#m78c1c2180e" x="582.798485" y="29.428615" style="fill: #0000ff; fill-opacity: 0.75; stroke: #0000ff; stroke-opacity: 0.75; stroke-linejoin: miter"/>
</g>
</g>
<g id="line2d_128">
<defs>
<path id="m44494a8cd4" d="M 0 -3 
L 0 0 
L -2.85 -0.93 
L 0 0 
L -1.76 2.43 
L 0 0 
L 1.76 2.43 
L 0 0 
L 2.85 -0.93 
L 0 0 
z
" style="stroke: #000000; stroke-width: 1.5; stroke-linecap: round"/>
</defs>
<g clip-path="url(#p4ebd17d41c)">
<use href="#m44494a8cd4" x="551.49386" y="22.153757" style="stroke: #000000; stroke-width: 1.5; stroke-linecap: round"/>
<use href="#m44494a8cd4" x="559.320016" y="22.153757" style="stroke: #000000; stroke-width: 1.5; stroke-linecap: round"/>
<use href="#m44494a8cd4" x="567.146172" y="22.153757" style="stroke: #000000; stroke-width: 1.5; stroke-linecap: round"/>
<use href="#m44494a8cd4" x="574.972329" y="22.153757" style="stroke: #000000; stroke-width: 1.5; stroke-linecap: round"/>
<use href="#m44494a8cd4" x="582.798485" y="22.153757" style="stroke: #000000; stroke-width: 1.5; stroke-linecap: round"/>
</g>
</g>
<g id="patch_35">
<path d="M 426.67 142.8 
L 426.67 16.57 
" style="fill: none; stroke: #000000; stroke-width: 0.8; stroke-linejoin: miter; stroke-linecap: square"/>
</g>
<g id="patch_36">
<path d="M 590.23 142.8 
L 590.23 16.57 
" style="fill: none; stroke: #000000; stroke-width: 0.8; stroke-linejoin: miter; stroke-linecap: square"/>
</g>
<g id="patch_37">
<path d="M 426.67 142.8 
L 590.23 142.8 
" style="fill: none; stroke: #000000; stroke-width: 0.8; stroke-linejoin: miter; stroke-linecap: square"/>
</g>
<g id="patch_38">
<path d="M 426.67 16.57 
L 590.23 16.57 
" style="fill: none; stroke: #000000; stroke-width: 0.8; stroke-linejoin: miter; stroke-linecap: square"/>
</g>
<g id="legend_1">
<g id="patch_39">
<path d="M 432.27 58.19 
L 501.56 58.19 
Q 503.16 58.19 503.16 56.59 
L 503.16 22.17 
Q 503.16 20.57 501.56 20.57 
L 432.27 20.57 
Q 430.67 20.57 430.67 22.17 
L 430.67 56.59 
Q 430.67 58.19 432.27 58.19 
z
" style="fill: #ffffff; opacity: 0.8; stroke: #cccccc; stroke-linejoin: miter"/>
</g>
<g id="line2d_129">
<g>
<use href="#m3cc280db12" x="437.866667" y="27.045417" style="fill: #ffa500; stroke: #ffa500"/>
</g>
</g>
<g id="text_56">
<text style="font-size: 8px; font-family: 'DejaVu Sans', 'Liberation Sans', sans-serif; text-anchor: start" x="448.266667" y="29.845417" transform="rotate(-0 448.266667 29.845417)">AP-SD model</text>
</g>
<g id="line2d_130">
<g>
<use href="#m78c1c2180e" x="437.866667" y="38.787917" style="fill: #0000ff; fill-opacity: 0.75; stroke: #0000ff; stroke-opacity: 0.75; stroke-linejoin: miter"/>
</g>
</g>
<g id="text_57">
<text style="font-size: 8px; font-family: 'DejaVu Sans', 'Liberation Sans', sans-serif; text-anchor: start" x="448.266667" y="41.587917" transform="rotate(-0 448.266667 41.587917)">AP-CS model</text>
</g>
<g id="line2d_131">
<g>
<use href="#m44494a8cd4" x="437.866667" y="50.530417" style="stroke: #000000; stroke-width: 1.5; stroke-linecap: round"/>
</g>
</g>
<g id="text_58">
<text style="font-size: 8px; font-family: 'DejaVu Sans', 'Liberation Sans', sans-serif; text-anchor: start" x="448.266667" y="53.330417" transform="rotate(-0 448.266667 53.330417)">EAD-like AP</text>
</g>
</g>
</g>
<g id="axes_10">
<g id="patch_40">
<path d="M 426.67 319.67 
L 590.23 319.67 
L 590.23 193.4 
L 426.67 193.4 
z
" style="fill: #ffffff"/>
</g>
<g id="matplotlib.axis_19">
<g id="xtick_48">
<g id="line2d_132">
<g>
<use href="#m1504cfccaf" x="458.884343" y="319.666667" style="stroke: #000000; stroke-width: 0.8"/>
</g>
</g>
<g id="text_59">
<!-- $\mathdefault{10^{0}}$ -->
<g transform="translate(451.844343 332.745417)">
<text>
<tspan x="0" y="0.0000" style="font-size: 8px; font-family: 'DejaVu Sans', 'Liberation Sans', sans-serif">1</tspan>
<tspan x="5.089844" y="0.0000" style="font-size: 8px; font-family: 'DejaVu Sans', 'Liberation Sans', sans-serif">0</tspan>
<tspan x="10.25625" y="-3.0625" style="font-size: 5.6px; font-family: 'DejaVu Sans', 'Liberation Sans', sans-serif">0</tspan>
</text>
</g>
</g>
</g>
<g id="xtick_49">
<g id="line2d_133">
<g>
<use href="#m1504cfccaf" x="508.45" y="319.666667" style="stroke: #000000; stroke-width: 0.8"/>
</g>
</g>
<g id="text_60">
<!-- $\mathdefault{10^{2}}$ -->
<g transform="translate(501.41 332.745417)">
<text>
<tspan x="0" y="0.0000" style="font-size: 8px; font-family: 'DejaVu Sans', 'Liberation Sans', sans-serif">1</tspan>
<tspan x="5.089844" y="0.0000" style="font-size: 8px; font-family: 'DejaVu Sans', 'Liberation Sans', sans-serif">0</tspan>
<tspan x="10.25625" y="-3.0625" style="font-size: 5.6px; font-family: 'DejaVu Sans', 'Liberation Sans', sans-serif">2</tspan>
</text>
</g>
</g>
</g>
<g id="xtick_50">
<g id="line2d_134">
<g>
<use href="#m1504cfccaf" x="558.015657" y="319.666667" style="stroke: #000000; stroke-width: 0.8"/>
</g>
</g>
<g id="text_61">
<!-- $\mathdefault{10^{4}}$ -->
<g transform="translate(550.975657 332.745417)">
<text>
<tspan x="0" y="0.0000" style="font-size: 8px; font-family: 'DejaVu Sans', 'Liberation Sans', sans-serif">1</tspan>
<tspan x="5.089844" y="0.0000" style="font-size: 8px; font-family: 'DejaVu Sans', 'Liberation Sans', sans-serif">0</tspan>
<tspan x="10.25625" y="-3.0625" style="font-size: 5.6px; font-family: 'DejaVu Sans', 'Liberation Sans', sans-serif">4</tspan>
</text>
</g>
</g>
</g>
<g id="text_62">
<text style="font-size: 8px; font-family: 'DejaVu Sans', 'Liberation Sans', sans-serif; text-anchor: middle" x="508.45" y="344.487917" transform="rotate(-0 508.45 344.487917)">Drug concentration (nM)</text>
</g>
</g>
<g id="matplotlib.axis_20">
<g id="ytick_29">
<g id="line2d_135">
<g>
<use href="#m5d545ce8f8" x="426.666667" y="309.197603" style="stroke: #000000; stroke-width: 0.8"/>
</g>
</g>
<g id="text_63">
<text style="font-size: 8px; font-family: 'DejaVu Sans', 'Liberation Sans', sans-serif; text-anchor: end" x="419.666667" y="312.236978" transform="rotate(-0 419.666667 312.236978)">0.00</text>
</g>
</g>
<g id="ytick_30">
<g id="line2d_136">
<g>
<use href="#m5d545ce8f8" x="426.666667" y="284.181918" style="stroke: #000000; stroke-width: 0.8"/>
</g>
</g>
<g id="text_64">
<text style="font-size: 8px; font-family: 'DejaVu Sans', 'Liberation Sans', sans-serif; text-anchor: end" x="419.666667" y="287.221293" transform="rotate(-0 419.666667 287.221293)">0.02</text>
</g>
</g>
<g id="ytick_31">
<g id="line2d_137">
<g>
<use href="#m5d545ce8f8" x="426.666667" y="259.166234" style="stroke: #000000; stroke-width: 0.8"/>
</g>
</g>
<g id="text_65">
<text style="font-size: 8px; font-family: 'DejaVu Sans', 'Liberation Sans', sans-serif; text-anchor: end" x="419.666667" y="262.205609" transform="rotate(-0 419.666667 262.205609)">0.04</text>
</g>
</g>
<g id="ytick_32">
<g id="line2d_138">
<g>
<use href="#m5d545ce8f8" x="426.666667" y="234.15055" style="stroke: #000000; stroke-width: 0.8"/>
</g>
</g>
<g id="text_66">
<text style="font-size: 8px; font-family: 'DejaVu Sans', 'Liberation Sans', sans-serif; text-anchor: end" x="419.666667" y="237.189925" transform="rotate(-0 419.666667 237.189925)">0.06</text>
</g>
</g>
<g id="ytick_33">
<g id="line2d_139">
<g>
<use href="#m5d545ce8f8" x="426.666667" y="209.134865" style="stroke: #000000; stroke-width: 0.8"/>
</g>
</g>
<g id="text_67">
<text style="font-size: 8px; font-family: 'DejaVu Sans', 'Liberation Sans', sans-serif; text-anchor: end" x="419.666667" y="212.17424" transform="rotate(-0 419.666667 212.17424)">0.08</text>
</g>
</g>
<g id="text_68">
<text style="font-size: 8px; font-family: 'DejaVu Sans', 'Liberation Sans', sans-serif; text-anchor: middle" x="396.190417" y="256.533333" transform="rotate(-90 396.190417 256.533333)">qNet (C/F)</text>
</g>
</g>
<g id="line2d_140">
<g clip-path="url(#p3e7570f9c2)">
<use href="#m3cc280db12" x="434.101515" y="199.128592" style="fill: #ffa500; stroke: #ffa500"/>
<use href="#m3cc280db12" x="441.927671" y="199.128592" style="fill: #ffa500; stroke: #ffa500"/>
<use href="#m3cc280db12" x="449.753828" y="199.128592" style="fill: #ffa500; stroke: #ffa500"/>
<use href="#m3cc280db12" x="457.579984" y="199.128592" style="fill: #ffa500; stroke: #ffa500"/>
<use href="#m3cc280db12" x="465.40614" y="199.128592" style="fill: #ffa500; stroke: #ffa500"/>
<use href="#m3cc280db12" x="473.232297" y="199.25367" style="fill: #ffa500; stroke: #ffa500"/>
<use href="#m3cc280db12" x="481.058453" y="199.378749" style="fill: #ffa500; stroke: #ffa500"/>
<use href="#m3cc280db12" x="488.884609" y="199.628905" style="fill: #ffa500; stroke: #ffa500"/>
<use href="#m3cc280db12" x="496.710766" y="200.87969" style="fill: #ffa500; stroke: #ffa500"/>
<use href="#m3cc280db12" x="504.536922" y="203.131101" style="fill: #ffa500; stroke: #ffa500"/>
<use href="#m3cc280db12" x="512.363078" y="208.634552" style="fill: #ffa500; stroke: #ffa500"/>
<use href="#m3cc280db12" x="520.189234" y="217.765277" style="fill: #ffa500; stroke: #ffa500"/>
<use href="#m3cc280db12" x="528.015391" y="233.775315" style="fill: #ffa500; stroke: #ffa500"/>
<use href="#m3cc280db12" x="535.841547" y="257.290058" style="fill: #ffa500; stroke: #ffa500"/>
<use href="#m3cc280db12" x="543.667703" y="299.566564" style="fill: #ffa500; stroke: #ffa500"/>
</g>
</g>
<g id="line2d_141">
<g clip-path="url(#p3e7570f9c2)">
<use href="#m78c1c2180e" x="434.101515" y="198.878435" style="fill: #0000ff; fill-opacity: 0.75; stroke: #0000ff; stroke-opacity: 0.75; stroke-linejoin: miter"/>
<use href="#m78c1c2180e" x="441.927671" y="198.878435" style="fill: #0000ff; fill-opacity: 0.75; stroke: #0000ff; stroke-opacity: 0.75; stroke-linejoin: miter"/>
<use href="#m78c1c2180e" x="449.753828" y="198.878435" style="fill: #0000ff; fill-opacity: 0.75; stroke: #0000ff; stroke-opacity: 0.75; stroke-linejoin: miter"/>
<use href="#m78c1c2180e" x="457.579984" y="198.878435" style="fill: #0000ff; fill-opacity: 0.75; stroke: #0000ff; stroke-opacity: 0.75; stroke-linejoin: miter"/>
<use href="#m78c1c2180e" x="465.40614" y="198.878435" style="fill: #0000ff; fill-opacity: 0.75; stroke: #0000ff; stroke-opacity: 0.75; stroke-linejoin: miter"/>
<use href="#m78c1c2180e" x="473.232297" y="199.003513" style="fill: #0000ff; fill-opacity: 0.75; stroke: #0000ff; stroke-opacity: 0.75; stroke-linejoin: miter"/>
<use href="#m78c1c2180e" x="481.058453" y="199.25367" style="fill: #0000ff; fill-opacity: 0.75; stroke: #0000ff; stroke-opacity: 0.75; stroke-linejoin: miter"/>
<use href="#m78c1c2180e" x="488.884609" y="200.054172" style="fill: #0000ff; fill-opacity: 0.75; stroke: #0000ff; stroke-opacity: 0.75; stroke-linejoin: miter"/>
<use href="#m78c1c2180e" x="496.710766" y="200.854674" style="fill: #0000ff; fill-opacity: 0.75; stroke: #0000ff; stroke-opacity: 0.75; stroke-linejoin: miter"/>
<use href="#m78c1c2180e" x="504.536922" y="202.680819" style="fill: #0000ff; fill-opacity: 0.75; stroke: #0000ff; stroke-opacity: 0.75; stroke-linejoin: miter"/>
<use href="#m78c1c2180e" x="512.363078" y="205.845303" style="fill: #0000ff; fill-opacity: 0.75; stroke: #0000ff; stroke-opacity: 0.75; stroke-linejoin: miter"/>
<use href="#m78c1c2180e" x="520.189234" y="211.561387" style="fill: #0000ff; fill-opacity: 0.75; stroke: #0000ff; stroke-opacity: 0.75; stroke-linejoin: miter"/>
<use href="#m78c1c2180e" x="528.015391" y="220.216814" style="fill: #0000ff; fill-opacity: 0.75; stroke: #0000ff; stroke-opacity: 0.75; stroke-linejoin: miter"/>
<use href="#m78c1c2180e" x="535.841547" y="232.149295" style="fill: #0000ff; fill-opacity: 0.75; stroke: #0000ff; stroke-opacity: 0.75; stroke-linejoin: miter"/>
<use href="#m78c1c2180e" x="543.667703" y="246.158078" style="fill: #0000ff; fill-opacity: 0.75; stroke: #0000ff; stroke-opacity: 0.75; stroke-linejoin: miter"/>
<use href="#m78c1c2180e" x="551.49386" y="260.229401" style="fill: #0000ff; fill-opacity: 0.75; stroke: #0000ff; stroke-opacity: 0.75; stroke-linejoin: miter"/>
<use href="#m78c1c2180e" x="559.320016" y="273.775394" style="fill: #0000ff; fill-opacity: 0.75; stroke: #0000ff; stroke-opacity: 0.75; stroke-linejoin: miter"/>
<use href="#m78c1c2180e" x="567.146172" y="313.625379" style="fill: #0000ff; fill-opacity: 0.75; stroke: #0000ff; stroke-opacity: 0.75; stroke-linejoin: miter"/>
</g>
</g>
<g id="patch_41">
<path d="M 426.67 319.67 
L 426.67 193.4 
" style="fill: none; stroke: #000000; stroke-width: 0.8; stroke-linejoin: miter; stroke-linecap: square"/>
</g>
<g id="patch_42">
<path d="M 590.23 319.67 
L 590.23 193.4 
" style="fill: none; stroke: #000000; stroke-width: 0.8; stroke-linejoin: miter; stroke-linecap: square"/>
</g>
<g id="patch_43">
<path d="M 426.67 319.67 
L 590.23 319.67 
" style="fill: none; stroke: #000000; stroke-width: 0.8; stroke-linejoin: miter; stroke-linecap: square"/>
</g>
<g id="patch_44">
<path d="M 426.67 193.4 
L 590.23 193.4 
" style="fill: none; stroke: #000000; stroke-width: 0.8; stroke-linejoin: miter; stroke-linecap: square"/>
</g>
<g id="legend_2">
<g id="patch_45">
<path d="M 432.27 315.67 
L 501.56 315.67 
Q 503.16 315.67 503.16 314.07 
L 503.16 291.38 
Q 503.16 289.78 501.56 289.78 
L 432.27 289.78 
Q 430.67 289.78 430.67 291.38 
L 430.67 314.07 
Q 430.67 315.67 432.27 315.67 
z
" style="fill: #ffffff; opacity: 0.8; stroke: #cccccc; stroke-linejoin: miter"/>
</g>
<g id="line2d_142">
<g>
<use href="#m3cc280db12" x="437.866667" y="296.260417" style="fill: #ffa500; stroke: #ffa500"/>
</g>
</g>
<g id="text_69">
<text style="font-size: 8px; font-family: 'DejaVu Sans', 'Liberation Sans', sans-serif; text-anchor: start" x="448.266667" y="299.060417" transform="rotate(-0 448.266667 299.060417)">AP-SD model</text>
</g>
<g id="line2d_143">
<g>
<use href="#m78c1c2180e" x="437.866667" y="308.002917" style="fill: #0000ff; fill-opacity: 0.75; stroke: #0000ff; stroke-opacity: 0.75; stroke-linejoin: miter"/>
</g>
</g>
<g id="text_70">
<text style="font-size: 8px; font-family: 'DejaVu Sans', 'Liberation Sans', sans-serif; text-anchor: start" x="448.266667" y="310.802917" transform="rotate(-0 448.266667 310.802917)">AP-CS model</text>
</g>
</g>
</g>
<g id="text_71">
<text style="font-weight: 700; font-size: 12.666667px; font-family: 'Liberation Sans', sans-serif; text-anchor: start" x="12.317933" y="9" transform="rotate(-0 12.317933 9)">A</text>
</g>
<g id="text_72">
<text style="font-weight: 700; font-size: 12.666667px; font-family: 'Liberation Sans', sans-serif; text-anchor: start" x="10.085933" y="190.4" transform="rotate(-0 10.085933 190.4)">B</text>
</g>
<g id="text_73">
<text style="font-weight: 700; font-size: 12.666667px; font-family: 'Liberation Sans', sans-serif; text-anchor: start" x="396.347333" y="9.2" transform="rotate(-0 396.347333 9.2)">C</text>
</g>
<g id="text_74">
<text style="font-weight: 700; font-size: 12.666667px; font-family: 'Liberation Sans', sans-serif; text-anchor: start" x="400.3526" y="189.333333" transform="rotate(-0 400.3526 189.333333)">D</text>
</g>
<g id="patch_46">
<path d="M 289.2 113.2 
L 383.2 113.2 
Q 384.8 113.2 384.8 111.6 
L 384.8 65.73 
Q 384.8 64.13 383.2 64.13 
L 289.2 64.13 
Q 287.6 64.13 287.6 65.73 
L 287.6 111.6 
Q 287.6 113.2 289.2 113.2 
z
" style="fill: #ffffff; opacity: 0.8; stroke: #cccccc; stroke-linejoin: miter"/>
</g>
<g id="line2d_144">
<path d="M 290.72 70.6 
L 297.88 70.6 
" style="fill: none; stroke: #440154; stroke-width: 1.5; stroke-linecap: square"/>
</g>
<g id="line2d_145">
<path d="M 290.72 82.27 
L 297.88 82.27 
" style="fill: none; stroke: #46327e; stroke-width: 1.5; stroke-linecap: square"/>
</g>
<g id="line2d_146">
<path d="M 290.72 93.93 
L 297.88 93.93 
" style="fill: none; stroke: #365c8d; stroke-width: 1.5; stroke-linecap: square"/>
</g>
<g id="line2d_147">
<path d="M 290.72 105.6 
L 297.88 105.6 
" style="fill: none; stroke: #277f8e; stroke-width: 1.5; stroke-linecap: square"/>
</g>
<g id="line2d_148">
<path d="M 338.62 70.6 
L 345.55 70.6 
" style="fill: none; stroke: #1fa187; stroke-width: 1.5; stroke-linecap: square"/>
</g>
<g id="line2d_149">
<path d="M 338.62 82.27 
L 345.55 82.27 
" style="fill: none; stroke: #4ac16d; stroke-width: 1.5; stroke-linecap: square"/>
</g>
<g id="line2d_150">
<path d="M 338.62 93.93 
L 345.55 93.93 
" style="fill: none; stroke: #a0da39; stroke-width: 1.5; stroke-linecap: square"/>
</g>
<g id="line2d_151">
<path d="M 338.62 105.6 
L 345.55 105.6 
" style="fill: none; stroke: #fde725; stroke-width: 1.5; stroke-linecap: square"/>
</g>
<g id="text_75">
<text style="font-size: 8px; font-family: 'DejaVu Sans', 'Liberation Sans', sans-serif; text-anchor: start" x="304.1" y="73.5" transform="rotate(-0 304.1 73.5)">0 nM</text>
</g>
<g id="text_76">
<text style="font-size: 8px; font-family: 'DejaVu Sans', 'Liberation Sans', sans-serif; text-anchor: start" x="304.1" y="85.133333" transform="rotate(-0 304.1 85.133333)">0.1 nM</text>
</g>
<g id="text_77">
<text style="font-size: 8px; font-family: 'DejaVu Sans', 'Liberation Sans', sans-serif; text-anchor: start" x="304.1" y="96.766667" transform="rotate(-0 304.1 96.766667)">1 nM</text>
</g>
<g id="text_78">
<text style="font-size: 8px; font-family: 'DejaVu Sans', 'Liberation Sans', sans-serif; text-anchor: start" x="304.1" y="108.4" transform="rotate(-0 304.1 108.4)">30 nM</text>
</g>
<g id="text_79">
<text style="font-size: 8px; font-family: 'DejaVu Sans', 'Liberation Sans', sans-serif; text-anchor: start" x="351.833333" y="73.5" transform="rotate(-0 351.833333 73.5)">300 nM</text>
</g>
<g id="text_80">
<!-- $10^3$ nM -->
<g transform="translate(351.833333 85.133333)">
<text>
<tspan x="0" y="0.0000" style="font-size: 8px; font-family: 'DejaVu Sans', 'Liberation Sans', sans-serif">1</tspan>
<tspan x="5.089844" y="0.0000" style="font-size: 8px; font-family: 'DejaVu Sans', 'Liberation Sans', sans-serif">0</tspan>
<tspan x="14.037891" y="0.0000" style="font-size: 8px; font-family: 'DejaVu Sans', 'Liberation Sans', sans-serif"> </tspan>
<tspan x="16.580859" y="0.0000" style="font-size: 8px; font-family: 'DejaVu Sans', 'Liberation Sans', sans-serif">n</tspan>
<tspan x="21.651172" y="0.0000" style="font-size: 8px; font-family: 'DejaVu Sans', 'Liberation Sans', sans-serif">M</tspan>
<tspan x="10.25625" y="-3.0625" style="font-size: 5.6px; font-family: 'DejaVu Sans', 'Liberation Sans', sans-serif">3</tspan>
</text>
</g>
</g>
<g id="text_81">
<!-- $10^4$ nM -->
<g transform="translate(351.833333 96.766667)">
<text>
<tspan x="0" y="0.0000" style="font-size: 8px; font-family: 'DejaVu Sans', 'Liberation Sans', sans-serif">1</tspan>
<tspan x="5.089844" y="0.0000" style="font-size: 8px; font-family: 'DejaVu Sans', 'Liberation Sans', sans-serif">0</tspan>
<tspan x="14.037891" y="0.0000" style="font-size: 8px; font-family: 'DejaVu Sans', 'Liberation Sans', sans-serif"> </tspan>
<tspan x="16.580859" y="0.0000" style="font-size: 8px; font-family: 'DejaVu Sans', 'Liberation Sans', sans-serif">n</tspan>
<tspan x="21.651172" y="0.0000" style="font-size: 8px; font-family: 'DejaVu Sans', 'Liberation Sans', sans-serif">M</tspan>
<tspan x="10.25625" y="-3.0625" style="font-size: 5.6px; font-family: 'DejaVu Sans', 'Liberation Sans', sans-serif">4</tspan>
</text>
</g>
</g>
<g id="text_82">
<!-- $10^5$ nM -->
<g transform="translate(351.833333 108.4)">
<text>
<tspan x="0" y="0.0000" style="font-size: 8px; font-family: 'DejaVu Sans', 'Liberation Sans', sans-serif">1</tspan>
<tspan x="5.089844" y="0.0000" style="font-size: 8px; font-family: 'DejaVu Sans', 'Liberation Sans', sans-serif">0</tspan>
<tspan x="14.037891" y="0.0000" style="font-size: 8px; font-family: 'DejaVu Sans', 'Liberation Sans', sans-serif"> </tspan>
<tspan x="16.580859" y="0.0000" style="font-size: 8px; font-family: 'DejaVu Sans', 'Liberation Sans', sans-serif">n</tspan>
<tspan x="21.651172" y="0.0000" style="font-size: 8px; font-family: 'DejaVu Sans', 'Liberation Sans', sans-serif">M</tspan>
<tspan x="10.25625" y="-3.0625" style="font-size: 5.6px; font-family: 'DejaVu Sans', 'Liberation Sans', sans-serif">5</tspan>
</text>
</g>
</g>
</g>
<defs>
<clipPath id="p07467d6503">
<rect x="35.413333" y="16.566667" width="163.853333" height="40.455556"/>
</clipPath>
<clipPath id="pf6a0c6cbec">
<rect x="35.413333" y="61.888889" width="163.853333" height="80.911111"/>
</clipPath>
<clipPath id="pd16b6974a2">
<rect x="212.4" y="16.566667" width="163.866667" height="40.455556"/>
</clipPath>
<clipPath id="pbfc1b4fcc4">
<rect x="212.4" y="61.888889" width="163.866667" height="80.911111"/>
</clipPath>
<clipPath id="p3e1aa53b1c">
<rect x="35.413333" y="193.4" width="163.853333" height="60.7"/>
</clipPath>
<clipPath id="p8b78d3c133">
<rect x="35.413333" y="258.966667" width="163.853333" height="60.7"/>
</clipPath>
<clipPath id="p045f9b5aab">
<rect x="212.4" y="193.4" width="163.866667" height="60.7"/>
</clipPath>
<clipPath id="p8f012c2bfc">
<rect x="212.4" y="258.966667" width="163.866667" height="60.7"/>
</clipPath>
<clipPath id="p4ebd17d41c">
<rect x="426.666667" y="16.566667" width="163.566667" height="126.233333"/>
</clipPath>
<clipPath id="p3e7570f9c2">
<rect x="426.666667" y="193.4" width="163.566667" height="126.266667"/>
</clipPath>
</defs>
</svg>

</body></html>
